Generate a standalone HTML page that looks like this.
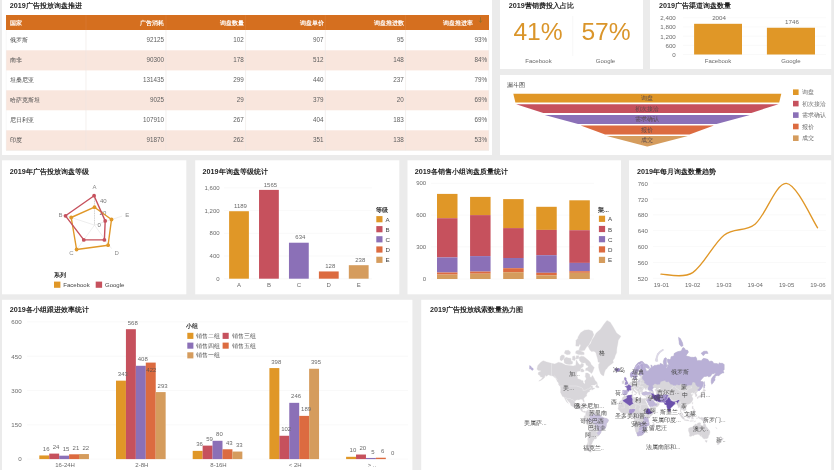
<!DOCTYPE html>
<html><head><meta charset="utf-8"><title>dashboard</title>
<style>
html,body{margin:0;padding:0;background:#ebebeb;}
body{width:834px;height:470px;overflow:hidden;position:relative;font-family:"Liberation Sans",sans-serif;}
svg{position:absolute;left:0;top:0;display:block;filter:blur(0.45px);}
svg text{font-family:"Liberation Sans",sans-serif;}
</style></head><body>
<svg width="834" height="470" viewBox="0 0 834 470">
<rect x="0" y="0" width="834" height="470" fill="#ebebeb"/>
<rect x="2.00" y="0.00" width="490.00" height="155.00" fill="#ffffff" />
<rect x="500.00" y="0.00" width="143.00" height="69.00" fill="#ffffff" />
<rect x="650.00" y="0.00" width="181.20" height="69.00" fill="#ffffff" />
<rect x="500.00" y="75.00" width="331.20" height="80.00" fill="#ffffff" />
<rect x="2.00" y="160.30" width="184.30" height="134.00" fill="#ffffff" />
<rect x="195.20" y="160.30" width="204.10" height="134.00" fill="#ffffff" />
<rect x="407.50" y="160.30" width="213.50" height="134.00" fill="#ffffff" />
<rect x="629.00" y="160.30" width="202.20" height="134.00" fill="#ffffff" />
<rect x="2.00" y="299.80" width="410.40" height="171.00" fill="#ffffff" />
<rect x="421.20" y="299.80" width="410.00" height="171.00" fill="#ffffff" />
<text x="9.80" y="5.60" font-size="7.2" fill="#1f1f1f" text-anchor="start" font-weight="bold" dominant-baseline="central" >2019</text>
<text x="25.81" y="5.60" font-size="7.2" fill="#1f1f1f" text-anchor="start" font-weight="bold" dominant-baseline="central"  textLength="56.00" lengthAdjust="spacing">广告投放询盘推进</text>
<rect x="6.00" y="15.00" width="483.00" height="15.00" fill="#d56f1f" />
<rect x="6.00" y="50.30" width="483.00" height="20.10" fill="#f9e6dd" />
<rect x="6.00" y="90.30" width="483.00" height="20.00" fill="#f9e6dd" />
<rect x="6.00" y="130.30" width="483.00" height="20.00" fill="#f9e6dd" />
<line x1="86.00" y1="30.00" x2="86.00" y2="150.30" stroke="#ece6e2" stroke-width="0.6" />
<line x1="166.00" y1="30.00" x2="166.00" y2="150.30" stroke="#ece6e2" stroke-width="0.6" />
<line x1="245.60" y1="30.00" x2="245.60" y2="150.30" stroke="#ece6e2" stroke-width="0.6" />
<line x1="325.30" y1="30.00" x2="325.30" y2="150.30" stroke="#ece6e2" stroke-width="0.6" />
<line x1="405.60" y1="30.00" x2="405.60" y2="150.30" stroke="#ece6e2" stroke-width="0.6" />
<line x1="6.00" y1="150.30" x2="489.00" y2="150.30" stroke="#e9e2de" stroke-width="0.6" />
<line x1="6.20" y1="30.00" x2="6.20" y2="150.00" stroke="#eee" stroke-width="0.5" />
<line x1="488.80" y1="30.00" x2="488.80" y2="150.00" stroke="#eee" stroke-width="0.5" />
<line x1="86.00" y1="15.00" x2="86.00" y2="30.00" stroke="#db7f3c" stroke-width="0.5" />
<line x1="166.00" y1="15.00" x2="166.00" y2="30.00" stroke="#db7f3c" stroke-width="0.5" />
<line x1="245.60" y1="15.00" x2="245.60" y2="30.00" stroke="#db7f3c" stroke-width="0.5" />
<line x1="325.30" y1="15.00" x2="325.30" y2="30.00" stroke="#db7f3c" stroke-width="0.5" />
<line x1="405.60" y1="15.00" x2="405.60" y2="30.00" stroke="#db7f3c" stroke-width="0.5" />
<text x="9.60" y="22.50" font-size="6" fill="#fff" text-anchor="start" font-weight="bold" dominant-baseline="central"  textLength="12.00" lengthAdjust="spacing">国家</text>
<text x="164.40" y="22.50" font-size="6" fill="#fff" text-anchor="end" font-weight="bold" dominant-baseline="central"  textLength="24.00" lengthAdjust="spacing">广告消耗</text>
<text x="244.00" y="22.50" font-size="6" fill="#fff" text-anchor="end" font-weight="bold" dominant-baseline="central"  textLength="24.00" lengthAdjust="spacing">询盘数量</text>
<text x="323.70" y="22.50" font-size="6" fill="#fff" text-anchor="end" font-weight="bold" dominant-baseline="central"  textLength="24.00" lengthAdjust="spacing">询盘单价</text>
<text x="404.00" y="22.50" font-size="6" fill="#fff" text-anchor="end" font-weight="bold" dominant-baseline="central"  textLength="30.00" lengthAdjust="spacing">询盘推进数</text>
<text x="473.20" y="22.50" font-size="6" fill="#fff" text-anchor="end" font-weight="bold" dominant-baseline="central"  textLength="30.00" lengthAdjust="spacing">询盘推进率</text>
<path d="M480.5 17.2v5M479.1 20.6l1.4 1.9l1.4-1.9" stroke="#8f6f2c" stroke-width="0.8" fill="none"/>
<text x="9.60" y="39.50" font-size="6" fill="#4a4a4a" text-anchor="start" font-weight="normal" dominant-baseline="central"  textLength="18.00" lengthAdjust="spacing">俄罗斯</text>
<text x="164.10" y="39.40" font-size="6.3" fill="#606060" text-anchor="end" font-weight="normal" dominant-baseline="central" >92125</text>
<text x="243.70" y="39.40" font-size="6.3" fill="#606060" text-anchor="end" font-weight="normal" dominant-baseline="central" >102</text>
<text x="323.40" y="39.40" font-size="6.3" fill="#606060" text-anchor="end" font-weight="normal" dominant-baseline="central" >907</text>
<text x="403.70" y="39.40" font-size="6.3" fill="#606060" text-anchor="end" font-weight="normal" dominant-baseline="central" >95</text>
<text x="487.10" y="39.40" font-size="6.3" fill="#606060" text-anchor="end" font-weight="normal" dominant-baseline="central" >93%</text>
<text x="9.60" y="59.70" font-size="6" fill="#4a4a4a" text-anchor="start" font-weight="normal" dominant-baseline="central"  textLength="12.00" lengthAdjust="spacing">南非</text>
<text x="164.10" y="59.60" font-size="6.3" fill="#606060" text-anchor="end" font-weight="normal" dominant-baseline="central" >90300</text>
<text x="243.70" y="59.60" font-size="6.3" fill="#606060" text-anchor="end" font-weight="normal" dominant-baseline="central" >178</text>
<text x="323.40" y="59.60" font-size="6.3" fill="#606060" text-anchor="end" font-weight="normal" dominant-baseline="central" >512</text>
<text x="403.70" y="59.60" font-size="6.3" fill="#606060" text-anchor="end" font-weight="normal" dominant-baseline="central" >148</text>
<text x="487.10" y="59.60" font-size="6.3" fill="#606060" text-anchor="end" font-weight="normal" dominant-baseline="central" >84%</text>
<text x="9.60" y="79.80" font-size="6" fill="#4a4a4a" text-anchor="start" font-weight="normal" dominant-baseline="central"  textLength="24.00" lengthAdjust="spacing">坦桑尼亚</text>
<text x="164.10" y="79.70" font-size="6.3" fill="#606060" text-anchor="end" font-weight="normal" dominant-baseline="central" >131435</text>
<text x="243.70" y="79.70" font-size="6.3" fill="#606060" text-anchor="end" font-weight="normal" dominant-baseline="central" >299</text>
<text x="323.40" y="79.70" font-size="6.3" fill="#606060" text-anchor="end" font-weight="normal" dominant-baseline="central" >440</text>
<text x="403.70" y="79.70" font-size="6.3" fill="#606060" text-anchor="end" font-weight="normal" dominant-baseline="central" >237</text>
<text x="487.10" y="79.70" font-size="6.3" fill="#606060" text-anchor="end" font-weight="normal" dominant-baseline="central" >79%</text>
<text x="9.60" y="99.70" font-size="6" fill="#4a4a4a" text-anchor="start" font-weight="normal" dominant-baseline="central"  textLength="30.00" lengthAdjust="spacing">哈萨克斯坦</text>
<text x="164.10" y="99.60" font-size="6.3" fill="#606060" text-anchor="end" font-weight="normal" dominant-baseline="central" >9025</text>
<text x="243.70" y="99.60" font-size="6.3" fill="#606060" text-anchor="end" font-weight="normal" dominant-baseline="central" >29</text>
<text x="323.40" y="99.60" font-size="6.3" fill="#606060" text-anchor="end" font-weight="normal" dominant-baseline="central" >379</text>
<text x="403.70" y="99.60" font-size="6.3" fill="#606060" text-anchor="end" font-weight="normal" dominant-baseline="central" >20</text>
<text x="487.10" y="99.60" font-size="6.3" fill="#606060" text-anchor="end" font-weight="normal" dominant-baseline="central" >69%</text>
<text x="9.60" y="119.70" font-size="6" fill="#4a4a4a" text-anchor="start" font-weight="normal" dominant-baseline="central"  textLength="24.00" lengthAdjust="spacing">尼日利亚</text>
<text x="164.10" y="119.60" font-size="6.3" fill="#606060" text-anchor="end" font-weight="normal" dominant-baseline="central" >107910</text>
<text x="243.70" y="119.60" font-size="6.3" fill="#606060" text-anchor="end" font-weight="normal" dominant-baseline="central" >267</text>
<text x="323.40" y="119.60" font-size="6.3" fill="#606060" text-anchor="end" font-weight="normal" dominant-baseline="central" >404</text>
<text x="403.70" y="119.60" font-size="6.3" fill="#606060" text-anchor="end" font-weight="normal" dominant-baseline="central" >183</text>
<text x="487.10" y="119.60" font-size="6.3" fill="#606060" text-anchor="end" font-weight="normal" dominant-baseline="central" >69%</text>
<text x="9.60" y="139.70" font-size="6" fill="#4a4a4a" text-anchor="start" font-weight="normal" dominant-baseline="central"  textLength="12.00" lengthAdjust="spacing">印度</text>
<text x="164.10" y="139.60" font-size="6.3" fill="#606060" text-anchor="end" font-weight="normal" dominant-baseline="central" >91870</text>
<text x="243.70" y="139.60" font-size="6.3" fill="#606060" text-anchor="end" font-weight="normal" dominant-baseline="central" >262</text>
<text x="323.40" y="139.60" font-size="6.3" fill="#606060" text-anchor="end" font-weight="normal" dominant-baseline="central" >351</text>
<text x="403.70" y="139.60" font-size="6.3" fill="#606060" text-anchor="end" font-weight="normal" dominant-baseline="central" >138</text>
<text x="487.10" y="139.60" font-size="6.3" fill="#606060" text-anchor="end" font-weight="normal" dominant-baseline="central" >53%</text>
<text x="508.80" y="5.60" font-size="7.2" fill="#1f1f1f" text-anchor="start" font-weight="bold" dominant-baseline="central" >2019</text>
<text x="524.81" y="5.60" font-size="7.2" fill="#1f1f1f" text-anchor="start" font-weight="bold" dominant-baseline="central"  textLength="49.00" lengthAdjust="spacing">营销费投入占比</text>
<text x="538.00" y="31.80" font-size="24.6" fill="#da952a" text-anchor="middle" font-weight="normal" dominant-baseline="central" >41%</text>
<text x="606.00" y="31.80" font-size="24.6" fill="#da952a" text-anchor="middle" font-weight="normal" dominant-baseline="central" >57%</text>
<line x1="572.70" y1="16.00" x2="572.70" y2="56.00" stroke="#f3f3f3" stroke-width="0.6" />
<text x="538.50" y="60.80" font-size="6" fill="#6b6b6b" text-anchor="middle" font-weight="normal" dominant-baseline="central" >Facebook</text>
<text x="605.50" y="60.80" font-size="6" fill="#6b6b6b" text-anchor="middle" font-weight="normal" dominant-baseline="central" >Google</text>
<text x="659.00" y="5.60" font-size="7.2" fill="#1f1f1f" text-anchor="start" font-weight="bold" dominant-baseline="central" >2019</text>
<text x="675.01" y="5.60" font-size="7.2" fill="#1f1f1f" text-anchor="start" font-weight="bold" dominant-baseline="central"  textLength="56.00" lengthAdjust="spacing">广告渠道询盘数量</text>
<line x1="683.00" y1="17.73" x2="826.00" y2="17.73" stroke="#f5f5f5" stroke-width="0.6" />
<text x="675.80" y="17.73" font-size="6.2" fill="#6b6b6b" text-anchor="end" font-weight="normal" dominant-baseline="central" >2,400</text>
<line x1="683.00" y1="26.93" x2="826.00" y2="26.93" stroke="#f5f5f5" stroke-width="0.6" />
<text x="675.80" y="26.93" font-size="6.2" fill="#6b6b6b" text-anchor="end" font-weight="normal" dominant-baseline="central" >1,800</text>
<line x1="683.00" y1="36.12" x2="826.00" y2="36.12" stroke="#f5f5f5" stroke-width="0.6" />
<text x="675.80" y="36.12" font-size="6.2" fill="#6b6b6b" text-anchor="end" font-weight="normal" dominant-baseline="central" >1,200</text>
<line x1="683.00" y1="45.31" x2="826.00" y2="45.31" stroke="#f5f5f5" stroke-width="0.6" />
<text x="675.80" y="45.31" font-size="6.2" fill="#6b6b6b" text-anchor="end" font-weight="normal" dominant-baseline="central" >600</text>
<line x1="683.00" y1="54.50" x2="826.00" y2="54.50" stroke="#f5f5f5" stroke-width="0.6" />
<text x="675.80" y="54.50" font-size="6.2" fill="#6b6b6b" text-anchor="end" font-weight="normal" dominant-baseline="central" >0</text>
<rect x="694.10" y="23.80" width="47.90" height="30.70" fill="#e09727" />
<text x="719.05" y="17.80" font-size="6.2" fill="#6b6b6b" text-anchor="middle" font-weight="normal" dominant-baseline="central" >2004</text>
<text x="718.05" y="60.50" font-size="6" fill="#6b6b6b" text-anchor="middle" font-weight="normal" dominant-baseline="central" >Facebook</text>
<rect x="766.90" y="27.75" width="48.10" height="26.75" fill="#e09727" />
<text x="791.95" y="21.75" font-size="6.2" fill="#6b6b6b" text-anchor="middle" font-weight="normal" dominant-baseline="central" >1746</text>
<text x="790.95" y="60.50" font-size="6" fill="#6b6b6b" text-anchor="middle" font-weight="normal" dominant-baseline="central" >Google</text>
<text x="507.00" y="85.00" font-size="6" fill="#444" text-anchor="start" font-weight="normal" dominant-baseline="central"  textLength="18.00" lengthAdjust="spacing">漏斗图</text>
<polygon points="513.3,93.7 781.3,93.7 779.2,102.5 515.4,102.5" fill="#e09727"/>
<text x="647.30" y="98.10" font-size="6" fill="#5a4a4a" text-anchor="middle" font-weight="normal" dominant-baseline="central"  textLength="12.00" lengthAdjust="spacing">询盘</text>
<polygon points="516.1,104.2 778.5,104.2 751.3,112.9 543.3,112.9" fill="#c6515d"/>
<text x="647.30" y="108.55" font-size="6" fill="#5a4a4a" text-anchor="middle" font-weight="normal" dominant-baseline="central"  textLength="24.00" lengthAdjust="spacing">初次接洽</text>
<polygon points="544.7,115.0 749.9,115.0 716.6,123.9 578.0,123.9" fill="#8b70b7"/>
<text x="647.30" y="119.45" font-size="6" fill="#5a4a4a" text-anchor="middle" font-weight="normal" dominant-baseline="central"  textLength="24.00" lengthAdjust="spacing">需求确认</text>
<polygon points="580.7,125.6 713.9,125.6 689.5,134.5 605.1,134.5" fill="#dc6b40"/>
<text x="647.30" y="130.05" font-size="6" fill="#5a4a4a" text-anchor="middle" font-weight="normal" dominant-baseline="central"  textLength="12.00" lengthAdjust="spacing">报价</text>
<polygon points="606.7,136.1 687.9,136.1 647.6,146.6 647.0,146.6" fill="#d59c5d"/>
<text x="647.30" y="140.15" font-size="6" fill="#5a4a4a" text-anchor="middle" font-weight="normal" dominant-baseline="central"  textLength="12.00" lengthAdjust="spacing">成交</text>
<rect x="793.00" y="89.40" width="5.60" height="5.60" fill="#e09727" />
<text x="801.50" y="92.20" font-size="6" fill="#6b6b6b" text-anchor="start" font-weight="normal" dominant-baseline="central"  textLength="12.00" lengthAdjust="spacing">询盘</text>
<rect x="793.00" y="100.80" width="5.60" height="5.60" fill="#c6515d" />
<text x="801.50" y="103.60" font-size="6" fill="#6b6b6b" text-anchor="start" font-weight="normal" dominant-baseline="central"  textLength="24.00" lengthAdjust="spacing">初次接洽</text>
<rect x="793.00" y="112.30" width="5.60" height="5.60" fill="#8b70b7" />
<text x="801.50" y="115.10" font-size="6" fill="#6b6b6b" text-anchor="start" font-weight="normal" dominant-baseline="central"  textLength="24.00" lengthAdjust="spacing">需求确认</text>
<rect x="793.00" y="123.70" width="5.60" height="5.60" fill="#dc6b40" />
<text x="801.50" y="126.50" font-size="6" fill="#6b6b6b" text-anchor="start" font-weight="normal" dominant-baseline="central"  textLength="12.00" lengthAdjust="spacing">报价</text>
<rect x="793.00" y="135.40" width="5.60" height="5.60" fill="#d59c5d" />
<text x="801.50" y="138.20" font-size="6" fill="#6b6b6b" text-anchor="start" font-weight="normal" dominant-baseline="central"  textLength="12.00" lengthAdjust="spacing">成交</text>
<text x="9.80" y="171.00" font-size="7.2" fill="#1f1f1f" text-anchor="start" font-weight="bold" dominant-baseline="central" >2019</text>
<text x="25.81" y="171.00" font-size="7.2" fill="#1f1f1f" text-anchor="start" font-weight="bold" dominant-baseline="central"  textLength="63.00" lengthAdjust="spacing">年广告投放询盘等级</text>
<line x1="94.50" y1="225.10" x2="94.50" y2="196.10" stroke="#dcdcdc" stroke-width="0.5" />
<line x1="94.50" y1="225.10" x2="66.92" y2="216.14" stroke="#dcdcdc" stroke-width="0.5" />
<line x1="94.50" y1="225.10" x2="77.45" y2="248.56" stroke="#dcdcdc" stroke-width="0.5" />
<line x1="94.50" y1="225.10" x2="111.55" y2="248.56" stroke="#dcdcdc" stroke-width="0.5" />
<line x1="94.50" y1="225.10" x2="122.08" y2="216.14" stroke="#dcdcdc" stroke-width="0.5" />
<text x="94.50" y="186.50" font-size="6" fill="#8a8a8a" text-anchor="middle" font-weight="normal" dominant-baseline="central" >A</text>
<text x="60.40" y="215.20" font-size="6" fill="#8a8a8a" text-anchor="middle" font-weight="normal" dominant-baseline="central" >B</text>
<text x="71.50" y="252.60" font-size="6" fill="#8a8a8a" text-anchor="middle" font-weight="normal" dominant-baseline="central" >C</text>
<text x="116.60" y="252.60" font-size="6" fill="#8a8a8a" text-anchor="middle" font-weight="normal" dominant-baseline="central" >D</text>
<text x="127.20" y="214.90" font-size="6" fill="#8a8a8a" text-anchor="middle" font-weight="normal" dominant-baseline="central" >E</text>
<text x="100.00" y="200.80" font-size="6" fill="#777" text-anchor="start" font-weight="normal" dominant-baseline="central" >40</text>
<text x="99.60" y="212.60" font-size="6" fill="#777" text-anchor="start" font-weight="normal" dominant-baseline="central" >20</text>
<text x="97.50" y="225.30" font-size="6" fill="#777" text-anchor="start" font-weight="normal" dominant-baseline="central" >0</text>
<line x1="94.50" y1="196.00" x2="94.50" y2="225.00" stroke="#bbb" stroke-width="0.5" stroke-dasharray="1.2,1.2"/>
<polygon points="94.5,207.2 71.2,217.5 76.6,249.5 108.1,245.2 111.5,219.5" fill="none" stroke="#e09727" stroke-width="1.4" stroke-linejoin="round"/>
<circle cx="94.5" cy="207.2" r="1.9" fill="#e09727"/>
<circle cx="71.2" cy="217.5" r="1.9" fill="#e09727"/>
<circle cx="76.6" cy="249.5" r="1.9" fill="#e09727"/>
<circle cx="108.1" cy="245.2" r="1.9" fill="#e09727"/>
<circle cx="111.5" cy="219.5" r="1.9" fill="#e09727"/>
<polygon points="94.1,195.7 65.5,215.8 83.8,239.9 104.4,239.9 105.2,220.9" fill="none" stroke="#c6515d" stroke-width="1.4" stroke-linejoin="round"/>
<circle cx="94.1" cy="195.7" r="1.9" fill="#c6515d"/>
<circle cx="65.5" cy="215.8" r="1.9" fill="#c6515d"/>
<circle cx="83.8" cy="239.9" r="1.9" fill="#c6515d"/>
<circle cx="104.4" cy="239.9" r="1.9" fill="#c6515d"/>
<circle cx="105.2" cy="220.9" r="1.9" fill="#c6515d"/>
<text x="54.00" y="274.80" font-size="6" fill="#2a2a2a" text-anchor="start" font-weight="bold" dominant-baseline="central"  textLength="12.00" lengthAdjust="spacing">系列</text>
<rect x="54.00" y="281.60" width="6.40" height="6.20" fill="#e09727" />
<text x="63.30" y="284.70" font-size="6" fill="#444" text-anchor="start" font-weight="normal" dominant-baseline="central" >Facebook</text>
<rect x="95.70" y="281.60" width="6.40" height="6.20" fill="#c6515d" />
<text x="105.00" y="284.70" font-size="6" fill="#444" text-anchor="start" font-weight="normal" dominant-baseline="central" >Google</text>
<text x="202.60" y="171.00" font-size="7.2" fill="#1f1f1f" text-anchor="start" font-weight="bold" dominant-baseline="central" >2019</text>
<text x="218.61" y="171.00" font-size="7.2" fill="#1f1f1f" text-anchor="start" font-weight="bold" dominant-baseline="central"  textLength="49.00" lengthAdjust="spacing">年询盘等级统计</text>
<line x1="224.00" y1="187.90" x2="372.00" y2="187.90" stroke="#f5f5f5" stroke-width="0.6" />
<text x="219.60" y="187.90" font-size="6" fill="#6b6b6b" text-anchor="end" font-weight="normal" dominant-baseline="central" >1,600</text>
<line x1="224.00" y1="210.60" x2="372.00" y2="210.60" stroke="#f5f5f5" stroke-width="0.6" />
<text x="219.60" y="210.60" font-size="6" fill="#6b6b6b" text-anchor="end" font-weight="normal" dominant-baseline="central" >1,200</text>
<line x1="224.00" y1="233.30" x2="372.00" y2="233.30" stroke="#f5f5f5" stroke-width="0.6" />
<text x="219.60" y="233.30" font-size="6" fill="#6b6b6b" text-anchor="end" font-weight="normal" dominant-baseline="central" >800</text>
<line x1="224.00" y1="256.00" x2="372.00" y2="256.00" stroke="#f5f5f5" stroke-width="0.6" />
<text x="219.60" y="256.00" font-size="6" fill="#6b6b6b" text-anchor="end" font-weight="normal" dominant-baseline="central" >400</text>
<line x1="224.00" y1="278.70" x2="372.00" y2="278.70" stroke="#f5f5f5" stroke-width="0.6" />
<text x="219.60" y="278.70" font-size="6" fill="#6b6b6b" text-anchor="end" font-weight="normal" dominant-baseline="central" >0</text>
<rect x="229.10" y="211.22" width="19.80" height="67.48" fill="#e09727" />
<text x="240.50" y="205.92" font-size="6" fill="#6b6b6b" text-anchor="middle" font-weight="normal" dominant-baseline="central" >1189</text>
<text x="239.00" y="284.60" font-size="6" fill="#6b6b6b" text-anchor="middle" font-weight="normal" dominant-baseline="central" >A</text>
<rect x="259.03" y="189.89" width="19.80" height="88.81" fill="#c6515d" />
<text x="270.43" y="184.59" font-size="6" fill="#6b6b6b" text-anchor="middle" font-weight="normal" dominant-baseline="central" >1565</text>
<text x="268.93" y="284.60" font-size="6" fill="#6b6b6b" text-anchor="middle" font-weight="normal" dominant-baseline="central" >B</text>
<rect x="288.96" y="242.72" width="19.80" height="35.98" fill="#8b70b7" />
<text x="300.36" y="237.42" font-size="6" fill="#6b6b6b" text-anchor="middle" font-weight="normal" dominant-baseline="central" >634</text>
<text x="298.86" y="284.60" font-size="6" fill="#6b6b6b" text-anchor="middle" font-weight="normal" dominant-baseline="central" >C</text>
<rect x="318.89" y="271.44" width="19.80" height="7.26" fill="#dc6b40" />
<text x="330.29" y="266.14" font-size="6" fill="#6b6b6b" text-anchor="middle" font-weight="normal" dominant-baseline="central" >128</text>
<text x="328.79" y="284.60" font-size="6" fill="#6b6b6b" text-anchor="middle" font-weight="normal" dominant-baseline="central" >D</text>
<rect x="348.82" y="265.19" width="19.80" height="13.51" fill="#d59c5d" />
<text x="360.22" y="259.89" font-size="6" fill="#6b6b6b" text-anchor="middle" font-weight="normal" dominant-baseline="central" >238</text>
<text x="358.72" y="284.60" font-size="6" fill="#6b6b6b" text-anchor="middle" font-weight="normal" dominant-baseline="central" >E</text>
<text x="375.60" y="210.30" font-size="6" fill="#2a2a2a" text-anchor="start" font-weight="bold" dominant-baseline="central"  textLength="12.00" lengthAdjust="spacing">等级</text>
<rect x="376.30" y="216.10" width="6.20" height="6.20" fill="#e09727" />
<text x="385.60" y="219.20" font-size="6.2" fill="#444" text-anchor="start" font-weight="normal" dominant-baseline="central" >A</text>
<rect x="376.30" y="226.10" width="6.20" height="6.20" fill="#c6515d" />
<text x="385.60" y="229.20" font-size="6.2" fill="#444" text-anchor="start" font-weight="normal" dominant-baseline="central" >B</text>
<rect x="376.30" y="236.20" width="6.20" height="6.20" fill="#8b70b7" />
<text x="385.60" y="239.30" font-size="6.2" fill="#444" text-anchor="start" font-weight="normal" dominant-baseline="central" >C</text>
<rect x="376.30" y="246.40" width="6.20" height="6.20" fill="#dc6b40" />
<text x="385.60" y="249.50" font-size="6.2" fill="#444" text-anchor="start" font-weight="normal" dominant-baseline="central" >D</text>
<rect x="376.30" y="256.70" width="6.20" height="6.20" fill="#d59c5d" />
<text x="385.60" y="259.80" font-size="6.2" fill="#444" text-anchor="start" font-weight="normal" dominant-baseline="central" >E</text>
<text x="414.80" y="171.00" font-size="7.2" fill="#1f1f1f" text-anchor="start" font-weight="bold" dominant-baseline="central" >2019</text>
<text x="430.81" y="171.00" font-size="7.2" fill="#1f1f1f" text-anchor="start" font-weight="bold" dominant-baseline="central"  textLength="77.00" lengthAdjust="spacing">各销售小组询盘质量统计</text>
<line x1="431.00" y1="183.40" x2="594.00" y2="183.40" stroke="#f5f5f5" stroke-width="0.6" />
<text x="426.20" y="183.40" font-size="6" fill="#6b6b6b" text-anchor="end" font-weight="normal" dominant-baseline="central" >900</text>
<line x1="431.00" y1="215.10" x2="594.00" y2="215.10" stroke="#f5f5f5" stroke-width="0.6" />
<text x="426.20" y="215.10" font-size="6" fill="#6b6b6b" text-anchor="end" font-weight="normal" dominant-baseline="central" >600</text>
<line x1="431.00" y1="246.90" x2="594.00" y2="246.90" stroke="#f5f5f5" stroke-width="0.6" />
<text x="426.20" y="246.90" font-size="6" fill="#6b6b6b" text-anchor="end" font-weight="normal" dominant-baseline="central" >300</text>
<line x1="431.00" y1="279.00" x2="594.00" y2="279.00" stroke="#f5f5f5" stroke-width="0.6" />
<text x="426.20" y="279.00" font-size="6" fill="#6b6b6b" text-anchor="end" font-weight="normal" dominant-baseline="central" >0</text>
<rect x="437.00" y="193.90" width="20.50" height="24.30" fill="#e09727" />
<rect x="437.00" y="218.20" width="20.50" height="39.20" fill="#c6515d" />
<rect x="437.00" y="257.40" width="20.50" height="15.10" fill="#8b70b7" />
<rect x="437.00" y="272.50" width="20.50" height="2.10" fill="#dc6b40" />
<rect x="437.00" y="274.60" width="20.50" height="4.40" fill="#d59c5d" />
<rect x="470.08" y="196.90" width="20.50" height="18.20" fill="#e09727" />
<rect x="470.08" y="215.10" width="20.50" height="41.00" fill="#c6515d" />
<rect x="470.08" y="256.10" width="20.50" height="15.50" fill="#8b70b7" />
<rect x="470.08" y="271.60" width="20.50" height="2.10" fill="#dc6b40" />
<rect x="470.08" y="273.70" width="20.50" height="5.30" fill="#d59c5d" />
<rect x="503.16" y="199.10" width="20.50" height="29.00" fill="#e09727" />
<rect x="503.16" y="228.10" width="20.50" height="29.90" fill="#c6515d" />
<rect x="503.16" y="258.00" width="20.50" height="10.20" fill="#8b70b7" />
<rect x="503.16" y="268.20" width="20.50" height="4.00" fill="#dc6b40" />
<rect x="503.16" y="272.20" width="20.50" height="6.80" fill="#d59c5d" />
<rect x="536.24" y="206.80" width="20.50" height="23.10" fill="#e09727" />
<rect x="536.24" y="229.90" width="20.50" height="25.30" fill="#c6515d" />
<rect x="536.24" y="255.20" width="20.50" height="17.60" fill="#8b70b7" />
<rect x="536.24" y="272.80" width="20.50" height="2.50" fill="#dc6b40" />
<rect x="536.24" y="275.30" width="20.50" height="3.70" fill="#d59c5d" />
<rect x="569.32" y="200.30" width="20.50" height="29.90" fill="#e09727" />
<rect x="569.32" y="230.20" width="20.50" height="32.70" fill="#c6515d" />
<rect x="569.32" y="262.90" width="20.50" height="8.30" fill="#8b70b7" />
<rect x="569.32" y="271.20" width="20.50" height="1.60" fill="#dc6b40" />
<rect x="569.32" y="272.80" width="20.50" height="6.20" fill="#d59c5d" />
<text x="598.00" y="209.70" font-size="6" fill="#2a2a2a" text-anchor="start" font-weight="bold" dominant-baseline="central"  textLength="11.02" lengthAdjust="spacing">渠...</text>
<rect x="598.90" y="215.70" width="6.20" height="6.20" fill="#e09727" />
<text x="608.00" y="218.80" font-size="6.2" fill="#444" text-anchor="start" font-weight="normal" dominant-baseline="central" >A</text>
<rect x="598.90" y="225.90" width="6.20" height="6.20" fill="#c6515d" />
<text x="608.00" y="229.00" font-size="6.2" fill="#444" text-anchor="start" font-weight="normal" dominant-baseline="central" >B</text>
<rect x="598.90" y="236.10" width="6.20" height="6.20" fill="#8b70b7" />
<text x="608.00" y="239.20" font-size="6.2" fill="#444" text-anchor="start" font-weight="normal" dominant-baseline="central" >C</text>
<rect x="598.90" y="246.30" width="6.20" height="6.20" fill="#dc6b40" />
<text x="608.00" y="249.40" font-size="6.2" fill="#444" text-anchor="start" font-weight="normal" dominant-baseline="central" >D</text>
<rect x="598.90" y="256.80" width="6.20" height="6.20" fill="#d59c5d" />
<text x="608.00" y="259.90" font-size="6.2" fill="#444" text-anchor="start" font-weight="normal" dominant-baseline="central" >E</text>
<text x="637.00" y="171.00" font-size="7.2" fill="#1f1f1f" text-anchor="start" font-weight="bold" dominant-baseline="central" >2019</text>
<text x="653.01" y="171.00" font-size="7.2" fill="#1f1f1f" text-anchor="start" font-weight="bold" dominant-baseline="central"  textLength="63.00" lengthAdjust="spacing">年每月询盘数量趋势</text>
<line x1="653.00" y1="183.10" x2="826.00" y2="183.10" stroke="#f5f5f5" stroke-width="0.6" />
<text x="647.80" y="183.10" font-size="6.1" fill="#6b6b6b" text-anchor="end" font-weight="normal" dominant-baseline="central" >760</text>
<line x1="653.00" y1="199.00" x2="826.00" y2="199.00" stroke="#f5f5f5" stroke-width="0.6" />
<text x="647.80" y="199.00" font-size="6.1" fill="#6b6b6b" text-anchor="end" font-weight="normal" dominant-baseline="central" >720</text>
<line x1="653.00" y1="214.80" x2="826.00" y2="214.80" stroke="#f5f5f5" stroke-width="0.6" />
<text x="647.80" y="214.80" font-size="6.1" fill="#6b6b6b" text-anchor="end" font-weight="normal" dominant-baseline="central" >680</text>
<line x1="653.00" y1="230.60" x2="826.00" y2="230.60" stroke="#f5f5f5" stroke-width="0.6" />
<text x="647.80" y="230.60" font-size="6.1" fill="#6b6b6b" text-anchor="end" font-weight="normal" dominant-baseline="central" >640</text>
<line x1="653.00" y1="246.60" x2="826.00" y2="246.60" stroke="#f5f5f5" stroke-width="0.6" />
<text x="647.80" y="246.60" font-size="6.1" fill="#6b6b6b" text-anchor="end" font-weight="normal" dominant-baseline="central" >600</text>
<line x1="653.00" y1="262.50" x2="826.00" y2="262.50" stroke="#f5f5f5" stroke-width="0.6" />
<text x="647.80" y="262.50" font-size="6.1" fill="#6b6b6b" text-anchor="end" font-weight="normal" dominant-baseline="central" >560</text>
<line x1="653.00" y1="278.30" x2="826.00" y2="278.30" stroke="#f5f5f5" stroke-width="0.6" />
<text x="647.80" y="278.30" font-size="6.1" fill="#6b6b6b" text-anchor="end" font-weight="normal" dominant-baseline="central" >520</text>
<text x="661.40" y="284.50" font-size="6" fill="#6b6b6b" text-anchor="middle" font-weight="normal" dominant-baseline="central" >19-01</text>
<text x="692.70" y="284.50" font-size="6" fill="#6b6b6b" text-anchor="middle" font-weight="normal" dominant-baseline="central" >19-02</text>
<text x="724.00" y="284.50" font-size="6" fill="#6b6b6b" text-anchor="middle" font-weight="normal" dominant-baseline="central" >19-03</text>
<text x="755.30" y="284.50" font-size="6" fill="#6b6b6b" text-anchor="middle" font-weight="normal" dominant-baseline="central" >19-04</text>
<text x="786.60" y="284.50" font-size="6" fill="#6b6b6b" text-anchor="middle" font-weight="normal" dominant-baseline="central" >19-05</text>
<text x="817.90" y="284.50" font-size="6" fill="#6b6b6b" text-anchor="middle" font-weight="normal" dominant-baseline="central" >19-06</text>
<path d="M661.0,274.1 C666.3,273.9 682.2,279.1 692.7,272.6 C703.2,266.1 713.6,243.3 724.0,235.2 C734.4,227.1 744.9,232.5 755.3,223.9 C765.7,215.3 775.9,182.8 786.3,183.4 C796.7,184.1 812.4,220.4 817.6,227.8" fill="none" stroke="#e09727" stroke-width="1.35" stroke-linecap="round"/>
<text x="9.80" y="309.80" font-size="7.2" fill="#1f1f1f" text-anchor="start" font-weight="bold" dominant-baseline="central" >2019</text>
<text x="25.81" y="309.80" font-size="7.2" fill="#1f1f1f" text-anchor="start" font-weight="bold" dominant-baseline="central"  textLength="63.00" lengthAdjust="spacing">各小组跟进效率统计</text>
<line x1="27.00" y1="321.88" x2="408.00" y2="321.88" stroke="#f5f5f5" stroke-width="0.6" />
<text x="21.60" y="321.88" font-size="6.2" fill="#6b6b6b" text-anchor="end" font-weight="normal" dominant-baseline="central" >600</text>
<line x1="27.00" y1="356.19" x2="408.00" y2="356.19" stroke="#f5f5f5" stroke-width="0.6" />
<text x="21.60" y="356.19" font-size="6.2" fill="#6b6b6b" text-anchor="end" font-weight="normal" dominant-baseline="central" >450</text>
<line x1="27.00" y1="390.49" x2="408.00" y2="390.49" stroke="#f5f5f5" stroke-width="0.6" />
<text x="21.60" y="390.49" font-size="6.2" fill="#6b6b6b" text-anchor="end" font-weight="normal" dominant-baseline="central" >300</text>
<line x1="27.00" y1="424.80" x2="408.00" y2="424.80" stroke="#f5f5f5" stroke-width="0.6" />
<text x="21.60" y="424.80" font-size="6.2" fill="#6b6b6b" text-anchor="end" font-weight="normal" dominant-baseline="central" >150</text>
<line x1="27.00" y1="459.10" x2="408.00" y2="459.10" stroke="#f5f5f5" stroke-width="0.6" />
<text x="21.60" y="458.50" font-size="6.2" fill="#6b6b6b" text-anchor="end" font-weight="normal" dominant-baseline="central" >0</text>
<rect x="39.30" y="455.44" width="9.93" height="3.66" fill="#e09727" />
<rect x="49.23" y="453.61" width="9.93" height="5.49" fill="#c6515d" />
<rect x="59.16" y="455.67" width="9.93" height="3.43" fill="#8b70b7" />
<rect x="69.09" y="454.30" width="9.93" height="4.80" fill="#dc6b40" />
<rect x="79.02" y="454.07" width="9.93" height="5.03" fill="#d59c5d" />
<text x="65.12" y="464.70" font-size="6" fill="#6b6b6b" text-anchor="middle" font-weight="normal" dominant-baseline="central" >16-24H</text>
<rect x="116.00" y="380.66" width="9.93" height="78.44" fill="#e09727" />
<rect x="125.93" y="329.20" width="9.93" height="129.90" fill="#c6515d" />
<rect x="135.86" y="365.79" width="9.93" height="93.31" fill="#8b70b7" />
<rect x="145.79" y="362.59" width="9.93" height="96.51" fill="#dc6b40" />
<rect x="155.72" y="392.09" width="9.93" height="67.01" fill="#d59c5d" />
<text x="141.82" y="464.70" font-size="6" fill="#6b6b6b" text-anchor="middle" font-weight="normal" dominant-baseline="central" >2-8H</text>
<rect x="192.70" y="450.87" width="9.93" height="8.23" fill="#e09727" />
<rect x="202.63" y="445.61" width="9.93" height="13.49" fill="#c6515d" />
<rect x="212.56" y="440.80" width="9.93" height="18.30" fill="#8b70b7" />
<rect x="222.49" y="449.27" width="9.93" height="9.83" fill="#dc6b40" />
<rect x="232.42" y="451.55" width="9.93" height="7.55" fill="#d59c5d" />
<text x="218.52" y="464.70" font-size="6" fill="#6b6b6b" text-anchor="middle" font-weight="normal" dominant-baseline="central" >8-16H</text>
<rect x="269.40" y="368.08" width="9.93" height="91.02" fill="#e09727" />
<rect x="279.33" y="435.77" width="9.93" height="23.33" fill="#c6515d" />
<rect x="289.26" y="402.84" width="9.93" height="56.26" fill="#8b70b7" />
<rect x="299.19" y="415.88" width="9.93" height="43.22" fill="#dc6b40" />
<rect x="309.12" y="368.76" width="9.93" height="90.34" fill="#d59c5d" />
<text x="295.23" y="464.70" font-size="6" fill="#6b6b6b" text-anchor="middle" font-weight="normal" dominant-baseline="central" >&lt; 2H</text>
<rect x="346.10" y="456.81" width="9.93" height="2.29" fill="#e09727" />
<rect x="356.03" y="454.53" width="9.93" height="4.57" fill="#c6515d" />
<rect x="365.96" y="457.96" width="9.93" height="1.14" fill="#8b70b7" />
<rect x="375.89" y="457.73" width="9.93" height="1.37" fill="#dc6b40" />
<text x="371.93" y="464.70" font-size="6" fill="#6b6b6b" text-anchor="middle" font-weight="normal" dominant-baseline="central" >&gt; ..</text>
<text x="186.20" y="326.10" font-size="6" fill="#2a2a2a" text-anchor="start" font-weight="bold" dominant-baseline="central"  textLength="12.00" lengthAdjust="spacing">小组</text>
<rect x="187.30" y="332.80" width="6.10" height="6.10" fill="#e09727" />
<text x="196.20" y="335.80" font-size="6" fill="#555" text-anchor="start" font-weight="normal" dominant-baseline="central"  textLength="24.00" lengthAdjust="spacing">销售二组</text>
<rect x="222.60" y="332.80" width="6.10" height="6.10" fill="#c6515d" />
<text x="231.90" y="335.80" font-size="6" fill="#555" text-anchor="start" font-weight="normal" dominant-baseline="central"  textLength="24.00" lengthAdjust="spacing">销售三组</text>
<rect x="187.30" y="342.60" width="6.10" height="6.10" fill="#8b70b7" />
<text x="196.20" y="345.60" font-size="6" fill="#555" text-anchor="start" font-weight="normal" dominant-baseline="central"  textLength="24.00" lengthAdjust="spacing">销售四组</text>
<rect x="222.60" y="342.60" width="6.10" height="6.10" fill="#dc6b40" />
<text x="231.90" y="345.60" font-size="6" fill="#555" text-anchor="start" font-weight="normal" dominant-baseline="central"  textLength="24.00" lengthAdjust="spacing">销售五组</text>
<rect x="187.30" y="352.30" width="6.10" height="6.10" fill="#d59c5d" />
<text x="196.20" y="355.30" font-size="6" fill="#555" text-anchor="start" font-weight="normal" dominant-baseline="central"  textLength="24.00" lengthAdjust="spacing">销售一组</text>
<text x="46.16" y="449.04" font-size="6" fill="#6b6b6b" text-anchor="middle" font-weight="normal" dominant-baseline="central" >16</text>
<text x="56.09" y="447.21" font-size="6" fill="#6b6b6b" text-anchor="middle" font-weight="normal" dominant-baseline="central" >24</text>
<text x="66.03" y="449.27" font-size="6" fill="#6b6b6b" text-anchor="middle" font-weight="normal" dominant-baseline="central" >15</text>
<text x="75.96" y="447.90" font-size="6" fill="#6b6b6b" text-anchor="middle" font-weight="normal" dominant-baseline="central" >21</text>
<text x="85.89" y="447.67" font-size="6" fill="#6b6b6b" text-anchor="middle" font-weight="normal" dominant-baseline="central" >22</text>
<text x="122.87" y="374.26" font-size="6" fill="#6b6b6b" text-anchor="middle" font-weight="normal" dominant-baseline="central" >343</text>
<text x="132.80" y="322.80" font-size="6" fill="#6b6b6b" text-anchor="middle" font-weight="normal" dominant-baseline="central" >568</text>
<text x="142.73" y="359.39" font-size="6" fill="#6b6b6b" text-anchor="middle" font-weight="normal" dominant-baseline="central" >408</text>
<text x="151.35" y="369.80" font-size="6" fill="#6a5048" text-anchor="middle" font-weight="normal" dominant-baseline="central" >422</text>
<text x="162.59" y="385.69" font-size="6" fill="#6b6b6b" text-anchor="middle" font-weight="normal" dominant-baseline="central" >293</text>
<text x="199.56" y="444.47" font-size="6" fill="#6b6b6b" text-anchor="middle" font-weight="normal" dominant-baseline="central" >36</text>
<text x="209.50" y="439.21" font-size="6" fill="#6b6b6b" text-anchor="middle" font-weight="normal" dominant-baseline="central" >59</text>
<text x="219.43" y="434.40" font-size="6" fill="#6b6b6b" text-anchor="middle" font-weight="normal" dominant-baseline="central" >80</text>
<text x="229.35" y="442.87" font-size="6" fill="#6b6b6b" text-anchor="middle" font-weight="normal" dominant-baseline="central" >43</text>
<text x="239.28" y="445.15" font-size="6" fill="#6b6b6b" text-anchor="middle" font-weight="normal" dominant-baseline="central" >33</text>
<text x="276.26" y="361.68" font-size="6" fill="#6b6b6b" text-anchor="middle" font-weight="normal" dominant-baseline="central" >398</text>
<text x="286.19" y="429.37" font-size="6" fill="#6b6b6b" text-anchor="middle" font-weight="normal" dominant-baseline="central" >102</text>
<text x="296.12" y="396.44" font-size="6" fill="#6b6b6b" text-anchor="middle" font-weight="normal" dominant-baseline="central" >246</text>
<text x="306.06" y="409.48" font-size="6" fill="#6b6b6b" text-anchor="middle" font-weight="normal" dominant-baseline="central" >189</text>
<text x="315.98" y="362.36" font-size="6" fill="#6b6b6b" text-anchor="middle" font-weight="normal" dominant-baseline="central" >395</text>
<text x="352.96" y="450.41" font-size="6" fill="#6b6b6b" text-anchor="middle" font-weight="normal" dominant-baseline="central" >10</text>
<text x="362.89" y="448.13" font-size="6" fill="#6b6b6b" text-anchor="middle" font-weight="normal" dominant-baseline="central" >20</text>
<text x="372.82" y="451.56" font-size="6" fill="#6b6b6b" text-anchor="middle" font-weight="normal" dominant-baseline="central" >5</text>
<text x="382.75" y="451.33" font-size="6" fill="#6b6b6b" text-anchor="middle" font-weight="normal" dominant-baseline="central" >6</text>
<text x="392.69" y="452.70" font-size="6" fill="#6b6b6b" text-anchor="middle" font-weight="normal" dominant-baseline="central" >0</text>
<text x="429.90" y="309.80" font-size="7.2" fill="#1f1f1f" text-anchor="start" font-weight="bold" dominant-baseline="central" >2019</text>
<text x="445.91" y="309.80" font-size="7.2" fill="#1f1f1f" text-anchor="start" font-weight="bold" dominant-baseline="central"  textLength="77.00" lengthAdjust="spacing">广告投放线索数量热力图</text>
<g>
<polygon points="537.0,369.1 537.8,365.4 540.8,362.3 543.2,360.7 546.7,362.0 551.5,363.3 554.8,363.9 558.5,362.3 561.8,363.1 565.5,364.9 569.3,365.5 573.1,366.1 575.8,365.2 576.3,359.8 578.4,363.6 580.1,365.1 581.7,363.3 583.6,364.0 583.3,366.5 580.9,368.2 580.1,370.9 577.1,371.4 576.5,375.5 577.4,377.1 577.7,378.8 580.1,379.5 581.7,380.4 583.1,380.7 583.2,382.6 584.6,383.9 585.1,382.9 584.6,381.0 586.0,379.6 586.2,378.0 585.2,376.8 585.7,373.0 587.7,373.1 589.7,374.6 590.0,377.0 591.1,377.5 592.5,375.4 594.0,378.1 595.1,380.4 596.7,381.9 597.4,383.4 595.8,384.3 594.6,385.0 591.9,385.0 590.5,386.2 592.4,385.8 592.7,386.9 592.6,388.1 594.3,388.0 594.9,388.4 592.8,389.5 591.9,390.3 591.6,389.1 590.3,389.9 589.4,390.6 589.7,391.6 588.4,392.1 587.6,392.4 586.9,393.8 586.5,394.8 586.7,396.0 585.7,396.6 584.7,397.5 583.8,398.2 583.7,399.4 584.3,401.2 584.2,402.2 583.6,402.1 582.9,400.7 582.9,399.8 582.1,399.4 581.1,399.2 579.8,399.2 579.2,399.9 578.2,399.7 576.8,399.7 575.5,400.4 574.9,401.5 574.8,403.9 575.5,405.5 576.6,406.3 577.9,406.1 578.7,405.0 580.1,404.5 580.7,404.6 580.2,406.2 579.9,407.6 581.1,407.6 582.5,408.0 582.4,409.5 582.4,410.5 583.1,411.3 583.9,411.5 584.6,411.1 585.5,411.5 585.8,411.9 585.3,412.2 584.3,412.4 583.4,412.0 582.6,411.8 581.3,410.9 580.3,409.2 578.7,408.8 577.7,408.4 576.7,407.5 575.5,407.7 573.9,407.2 572.5,406.5 571.2,405.8 570.6,404.9 570.5,403.8 569.6,402.6 568.5,401.4 567.7,400.6 566.7,399.2 565.7,398.3 565.9,399.4 566.8,400.8 567.5,401.9 568.2,403.0 568.4,403.6 567.7,403.1 567.0,402.3 566.0,400.9 565.3,399.6 564.4,397.8 563.6,396.8 562.5,396.4 561.8,395.1 561.4,394.3 560.8,393.1 560.5,392.4 560.6,390.6 560.7,388.2 560.3,386.5 561.3,386.5 561.1,385.7 559.9,384.9 558.7,384.1 558.6,383.0 557.3,381.4 556.7,380.1 555.6,378.1 554.0,377.1 552.6,375.9 550.2,375.6 548.6,374.8 547.5,375.4 545.9,376.4 545.6,374.8 544.8,376.4 544.4,377.8 542.9,379.1 541.1,380.2 539.5,380.9 538.7,381.1 540.2,379.9 541.4,379.2 542.7,377.2 541.9,377.2 540.4,376.8 540.1,375.5 538.6,374.9 538.1,373.3 538.8,372.1 540.7,371.6 540.8,370.4 539.3,370.4 537.9,370.2 537.0,369.1" fill="#d8d6da" stroke="#d8d6da" stroke-width="0.3" stroke-linejoin="round"/>
<polygon points="594.3,367.6 592.7,371.7 591.6,373.5 590.4,372.6 588.9,371.5 587.3,370.4 585.5,370.5 585.8,368.3 587.9,367.6 588.3,366.1 586.4,365.2 585.3,362.8 583.0,363.0 581.2,362.6 579.4,360.4 579.1,357.2 581.4,356.2 583.8,356.4 585.7,358.1 588.4,360.2 590.3,362.2 591.2,364.6 593.2,366.4" fill="#d8d6da" stroke="#d8d6da" stroke-width="0.3" stroke-linejoin="round"/>
<polygon points="564.3,363.0 566.2,364.0 569.3,364.5 572.3,363.9 572.8,361.7 571.2,360.9 570.8,358.3 568.5,357.9 566.1,357.3 563.8,359.0 564.1,361.2" fill="#d8d6da" stroke="#d8d6da" stroke-width="0.3" stroke-linejoin="round"/>
<polygon points="560.0,359.5 561.2,360.9 562.9,359.8 564.7,357.3 564.0,355.2 561.8,355.0 560.3,356.4" fill="#d8d6da" stroke="#d8d6da" stroke-width="0.3" stroke-linejoin="round"/>
<polygon points="578.9,350.7 581.7,350.7 584.6,350.3 586.5,346.9 588.7,345.0 591.1,340.6 593.8,334.7 592.4,331.0 588.7,329.7 584.4,330.2 580.6,332.7 577.9,337.2 579.5,342.1 580.6,345.8 579.5,348.1" fill="#d8d6da" stroke="#d8d6da" stroke-width="0.3" stroke-linejoin="round"/>
<polygon points="575.5,353.2 578.4,354.6 581.7,354.8 584.2,354.4 584.1,352.5 581.7,351.4 578.2,350.3 576.0,351.0" fill="#d8d6da" stroke="#d8d6da" stroke-width="0.3" stroke-linejoin="round"/>
<polygon points="564.3,353.2 567.1,354.8 570.1,354.2 570.5,351.9 568.5,350.3 565.3,350.5" fill="#d8d6da" stroke="#d8d6da" stroke-width="0.3" stroke-linejoin="round"/>
<polygon points="572.3,360.0 574.9,360.4 575.5,358.3 574.4,355.8 572.5,356.6" fill="#d8d6da" stroke="#d8d6da" stroke-width="0.3" stroke-linejoin="round"/>
<polygon points="576.0,359.1 578.7,358.6 578.8,355.8 576.3,355.8" fill="#d8d6da" stroke="#d8d6da" stroke-width="0.3" stroke-linejoin="round"/>
<polygon points="575.8,346.1 578.7,346.3 580.6,342.4 578.2,337.9 576.0,340.6" fill="#d8d6da" stroke="#d8d6da" stroke-width="0.3" stroke-linejoin="round"/>
<polygon points="580.6,371.6 582.0,372.0 583.8,371.7 584.2,370.4 582.5,368.8 581.1,369.1" fill="#d8d6da" stroke="#d8d6da" stroke-width="0.3" stroke-linejoin="round"/>
<polygon points="595.5,387.0 597.4,387.7 598.9,387.8 599.0,387.1 598.5,386.3 597.5,385.6 597.3,383.9 596.5,384.6 595.7,386.4" fill="#d8d6da" stroke="#d8d6da" stroke-width="0.3" stroke-linejoin="round"/>
<polygon points="558.4,384.6 560.0,386.2 561.0,386.5 560.3,385.1 559.1,384.3" fill="#d8d6da" stroke="#d8d6da" stroke-width="0.3" stroke-linejoin="round"/>
<polygon points="588.1,346.3 589.7,349.8 591.4,351.6 594.0,351.2 595.9,352.7 596.7,355.8 597.8,359.5 598.1,362.0 600.0,362.8 598.6,364.3 598.6,367.2 599.2,369.9 600.0,372.3 600.8,374.1 601.8,374.9 603.5,375.9 604.0,374.8 604.3,372.9 605.1,370.7 605.9,369.2 607.0,368.6 608.0,366.8 609.6,365.5 611.3,364.3 613.4,362.5 612.9,360.4 614.5,358.3 615.3,355.4 616.6,352.7 616.9,348.1 617.7,344.2 618.3,340.3 620.9,336.2 616.6,333.1 612.9,326.4 610.2,322.2 607.0,320.4 604.3,323.8 600.5,329.3 596.2,333.1 594.0,336.9 591.9,339.9 590.8,343.3" fill="#d8d6da" stroke="#d8d6da" stroke-width="0.3" stroke-linejoin="round"/>
<polygon points="581.8,404.2 582.9,403.7 584.1,403.5 585.7,404.3 587.0,404.9 587.5,405.3 586.0,405.4 585.6,404.9 584.6,404.4 583.3,404.0 582.5,404.2" fill="#d8d6da" stroke="#d8d6da" stroke-width="0.3" stroke-linejoin="round"/>
<polygon points="587.4,406.2 588.2,405.4 589.7,405.4 590.6,406.1 589.5,406.3 588.8,406.6" fill="#d8d6da" stroke="#d8d6da" stroke-width="0.3" stroke-linejoin="round"/>
<polygon points="585.8,411.9 586.5,411.2 586.9,410.5 588.0,410.2 588.9,409.6 589.0,410.3 589.8,409.7 590.7,410.5 591.9,410.6 593.0,410.6 594.2,410.5 594.7,411.4 595.7,412.0 596.6,413.1 598.1,413.2 599.4,413.5 600.1,415.0 600.5,416.1 601.4,416.7 602.7,416.9 603.6,417.7 605.1,417.9 606.6,418.3 607.7,419.0 608.5,419.8 608.6,420.8 607.9,421.9 607.1,422.9 606.5,423.7 606.4,425.9 605.9,427.2 605.3,428.4 604.4,429.0 603.2,429.4 602.0,430.0 601.3,431.0 601.2,432.3 600.3,433.7 599.3,434.9 598.6,436.0 597.5,436.4 596.4,436.0 596.0,435.9 596.6,437.1 596.5,438.4 595.4,439.0 594.0,439.1 593.8,440.4 592.5,440.5 593.0,441.6 592.3,442.2 592.2,443.5 591.1,444.4 591.9,445.4 591.1,447.0 590.3,448.1 590.6,449.4 590.5,450.5 591.6,451.7 590.5,452.3 589.2,451.7 588.4,450.8 587.3,449.3 586.9,447.5 586.7,445.0 587.6,443.5 588.0,441.2 587.7,439.5 587.9,437.9 588.3,436.4 588.9,434.8 589.0,432.9 589.3,431.1 589.5,429.0 589.6,427.0 589.5,426.3 588.7,425.6 586.9,424.6 586.3,423.7 585.6,422.5 585.0,421.1 584.4,419.9 583.7,419.3 583.7,418.6 584.3,418.1 583.9,417.5 583.9,416.7 584.4,416.1 585.0,415.5 585.3,414.9 585.8,414.3 585.7,413.3 585.7,412.5" fill="#d8d6da" stroke="#d8d6da" stroke-width="0.3" stroke-linejoin="round"/>
<polygon points="618.2,404.8 618.7,403.2 619.4,401.9 620.4,400.8 621.5,400.2 622.1,399.4 622.2,398.3 622.8,397.2 623.7,396.7 624.2,395.6 625.2,396.0 626.3,396.1 627.4,395.6 628.7,395.0 630.1,394.9 631.7,394.8 632.8,394.6 633.3,395.0 632.9,395.8 632.9,396.7 633.4,397.3 634.7,397.6 635.6,397.9 636.0,398.6 637.1,399.0 638.1,398.9 638.3,398.1 639.2,397.5 640.3,398.0 641.0,398.4 642.2,398.6 643.2,398.8 644.1,398.4 644.8,398.6 645.8,398.6 646.2,399.7 645.9,400.6 645.4,400.1 644.9,399.4 644.9,400.1 645.5,401.1 646.0,402.3 646.6,403.2 647.2,404.2 647.4,405.0 647.6,406.1 648.2,406.5 648.5,407.7 649.6,408.4 650.4,409.2 650.7,409.6 650.7,410.1 651.3,410.7 652.4,410.5 653.8,410.2 654.9,409.9 654.9,410.7 654.3,411.8 653.8,412.8 653.1,413.9 652.1,415.0 651.1,415.8 650.1,416.7 649.6,417.4 648.9,418.2 648.5,418.9 648.3,419.7 648.7,420.6 648.7,421.6 649.2,422.1 649.2,423.4 649.4,424.5 648.7,425.4 647.6,425.9 646.8,426.7 646.1,427.3 646.5,428.4 646.4,429.6 645.2,430.5 645.0,431.4 644.8,432.5 644.1,433.2 643.5,434.0 642.5,435.1 641.5,435.6 640.0,435.8 639.0,436.0 638.2,436.3 637.3,435.9 637.2,434.8 636.7,433.5 636.3,432.4 635.6,431.4 635.3,429.9 635.1,428.6 634.6,427.6 633.8,426.1 633.7,425.2 634.0,423.9 634.7,423.1 634.8,422.3 634.5,421.2 634.0,419.6 633.9,418.9 633.0,417.9 632.3,417.0 632.4,415.9 632.7,415.1 632.6,414.3 632.0,413.8 631.2,413.9 630.5,413.9 629.8,412.9 628.7,412.9 627.9,413.1 626.9,413.5 625.8,413.6 624.7,413.6 623.4,413.9 622.6,413.5 621.6,412.8 620.7,412.3 620.2,411.5 619.6,410.7 619.2,410.3 618.4,409.6 618.4,409.0 618.0,408.3 618.5,407.6 618.6,406.5 618.5,405.6" fill="#d8d6da" stroke="#d8d6da" stroke-width="0.3" stroke-linejoin="round"/>
<polygon points="653.9,422.9 654.5,424.6 654.1,425.6 653.6,427.6 653.0,429.8 652.3,430.3 651.2,430.2 650.8,428.7 651.2,427.3 651.1,425.9 651.9,424.9 653.0,424.4 653.5,423.5" fill="#d8d6da" stroke="#d8d6da" stroke-width="0.3" stroke-linejoin="round"/>
<polygon points="622.6,394.8 622.7,393.8 622.3,393.6 622.7,392.1 622.4,390.6 623.1,390.1 624.4,390.2 625.8,390.3 626.5,390.3 626.8,389.4 626.8,388.2 626.1,387.3 624.9,386.8 624.9,386.3 625.8,386.1 626.5,386.2 626.4,385.4 626.9,385.6 627.5,385.5 628.2,385.0 628.3,384.3 629.2,384.0 629.7,383.3 630.0,382.6 630.9,382.1 631.9,381.9 632.2,381.4 632.0,380.4 631.8,379.1 632.1,378.5 633.0,378.1 632.9,379.3 633.2,380.2 632.7,380.7 632.9,381.3 633.4,381.6 634.1,381.3 635.0,381.7 636.3,381.2 637.4,381.0 638.1,381.3 638.7,380.5 638.7,379.0 639.0,378.3 639.8,378.8 640.5,378.5 640.4,377.5 640.0,376.6 641.1,376.2 642.5,376.2 643.3,375.7 642.7,375.2 641.4,375.3 639.8,375.8 639.0,374.8 638.9,373.1 639.4,372.0 640.6,370.2 641.0,369.5 640.3,368.8 639.4,369.0 638.9,370.4 638.4,371.5 637.4,372.3 636.7,373.8 636.7,374.9 637.5,375.7 637.1,376.9 636.4,377.5 636.3,378.8 635.9,379.7 635.1,379.7 634.4,380.3 634.2,379.5 633.7,378.0 633.4,376.8 633.0,376.2 632.3,377.0 631.3,377.8 630.5,377.0 630.2,375.7 630.1,374.1 630.5,373.0 631.4,372.1 632.5,371.4 633.6,370.0 634.2,368.3 635.0,366.7 635.7,365.2 636.8,364.0 637.9,362.8 639.5,362.0 640.9,361.2 642.2,361.2 643.5,362.2 644.1,363.3 645.4,363.9 647.0,364.3 648.9,366.1 649.6,367.6 648.9,368.4 647.6,368.2 645.7,367.6 645.2,368.0 646.1,369.5 646.2,370.7 647.3,371.2 647.8,370.5 649.1,370.4 648.9,369.2 650.3,368.0 651.2,368.2 651.1,366.2 650.8,364.9 652.1,365.5 652.4,367.2 653.2,366.2 654.8,365.2 656.2,365.4 657.0,364.9 658.3,364.8 659.7,364.9 660.2,363.3 661.8,363.9 663.2,364.6 664.1,365.4 663.4,363.1 663.3,361.2 664.3,358.6 665.1,357.7 666.5,358.1 666.4,361.2 666.5,364.3 667.1,366.1 665.9,368.0 666.4,368.3 667.5,366.8 667.5,364.8 668.6,364.6 669.4,366.4 669.0,364.5 667.5,362.0 667.2,359.5 668.0,359.0 669.4,359.5 670.7,359.1 671.0,356.8 672.9,356.2 674.2,355.4 673.9,353.8 675.8,352.5 678.0,351.6 680.1,351.2 681.5,350.5 682.5,348.1 683.5,347.6 684.7,348.4 685.5,350.1 687.4,350.1 688.5,352.1 686.8,354.4 686.0,355.8 687.4,356.2 688.7,356.6 691.2,357.2 693.8,357.3 695.5,356.8 696.5,358.1 697.1,360.7 698.4,360.4 699.8,360.4 701.4,360.7 702.6,359.0 703.8,358.3 705.9,358.8 707.8,359.3 709.2,361.4 711.3,361.0 712.9,361.7 713.5,363.3 715.1,363.4 717.0,363.6 718.6,364.6 719.1,362.8 720.7,363.3 722.4,363.3 724.2,364.5 724.2,369.7 723.4,370.4 722.8,370.4 723.6,371.8 723.9,373.0 722.6,372.9 721.0,373.8 719.7,374.8 719.0,375.7 717.2,375.5 715.9,375.9 715.1,376.8 715.3,377.8 714.6,378.0 715.1,379.5 714.6,380.9 713.6,381.4 713.4,382.6 712.7,383.3 711.8,384.3 711.2,382.6 711.2,380.4 711.5,378.8 712.1,377.8 713.2,376.2 714.3,375.2 715.4,373.7 715.4,372.8 713.7,373.7 712.1,373.8 710.8,375.9 710.0,376.6 708.6,376.8 707.6,376.0 705.7,376.4 704.1,376.6 702.7,378.0 701.4,379.5 700.3,380.9 701.4,381.6 702.6,381.6 703.4,382.4 703.3,383.4 703.0,384.7 702.9,386.1 702.2,387.3 701.4,388.6 700.3,389.9 699.2,390.7 698.4,390.5 697.8,391.0 697.2,391.9 696.4,392.8 696.0,393.2 696.5,393.9 697.0,395.0 696.9,396.0 696.0,396.4 695.4,396.5 695.5,395.6 695.6,394.8 694.8,394.3 694.8,393.3 694.2,392.9 693.2,393.3 692.7,393.5 693.0,392.4 692.3,392.4 691.2,393.3 690.8,393.8 691.3,394.5 692.4,394.4 693.3,394.7 692.5,395.2 691.7,396.0 692.2,397.2 692.9,398.3 692.9,399.1 692.8,400.0 692.2,401.0 691.7,402.0 690.9,402.8 690.1,403.5 689.0,403.9 688.2,404.2 687.4,404.5 686.7,404.6 686.5,405.1 686.3,404.5 685.6,404.4 684.8,405.0 684.3,405.8 684.7,406.6 685.4,407.5 686.0,408.4 686.2,409.5 685.9,410.2 685.1,410.6 684.4,411.1 683.8,411.6 683.9,410.9 683.4,410.6 682.8,410.2 682.4,409.7 681.7,409.4 681.5,409.0 681.2,409.4 681.1,410.3 680.8,411.2 681.2,411.8 681.6,412.5 682.2,412.9 682.7,413.5 683.0,414.3 683.1,415.0 683.5,415.5 683.0,415.5 682.3,415.1 681.9,414.7 681.5,414.0 681.4,413.2 681.0,412.5 680.4,411.9 680.3,411.3 680.5,410.6 680.4,409.8 680.2,408.8 680.0,408.0 679.9,407.2 679.2,407.3 678.7,407.7 678.1,407.5 678.2,406.6 677.8,405.5 677.2,404.9 676.9,404.2 676.4,403.9 675.8,404.2 675.2,404.3 674.3,404.6 674.0,405.2 673.3,405.5 672.5,406.4 671.7,407.2 670.9,407.7 670.5,408.1 670.5,409.1 670.4,409.9 670.2,410.7 669.8,411.3 669.1,411.9 668.6,411.5 668.2,410.2 667.6,409.3 667.4,408.1 666.9,407.1 666.6,405.9 666.5,404.8 665.6,404.9 665.2,404.7 664.5,404.0 665.2,403.6 664.1,403.2 663.6,402.6 663.1,402.2 662.0,402.3 660.5,402.3 659.3,402.2 658.2,401.9 657.9,401.2 657.0,401.4 656.2,401.3 655.3,400.8 654.6,399.9 654.2,399.2 653.5,399.4 653.3,399.8 653.7,400.8 654.2,401.4 654.4,402.2 654.8,402.6 655.1,401.8 655.2,402.8 655.6,402.9 656.5,402.9 657.3,402.1 657.7,401.6 657.8,402.5 658.3,403.1 659.0,403.2 659.6,403.9 659.1,404.7 658.6,405.1 658.4,405.9 657.8,406.5 657.1,406.8 656.2,407.2 655.5,407.7 654.3,408.1 653.5,408.7 652.4,409.0 651.6,409.4 650.8,409.4 650.5,408.8 650.4,408.0 650.3,407.2 649.7,406.5 649.2,405.6 648.5,404.9 648.4,404.0 647.8,403.0 647.4,402.3 647.0,401.5 646.4,400.6 646.2,399.7 645.9,398.6 646.1,397.9 646.5,396.8 646.7,395.8 646.8,395.1 646.0,395.0 644.9,395.4 643.8,395.3 643.3,395.3 642.5,395.0 642.1,394.5 641.6,393.8 641.8,393.1 641.5,392.8 642.2,392.5 643.0,392.4 643.0,392.0 644.2,391.9 645.3,391.4 646.3,391.4 647.1,391.9 648.1,392.1 649.2,392.1 649.7,391.7 649.7,390.9 648.9,390.3 648.1,389.6 647.5,389.0 648.1,388.3 648.5,387.4 647.6,387.7 646.5,388.1 646.2,388.6 647.0,388.9 646.5,389.2 645.6,389.6 645.0,388.7 645.4,388.3 644.5,388.1 643.9,388.0 643.4,388.9 642.8,389.9 642.5,390.8 642.5,391.5 642.9,391.9 642.2,392.2 641.5,392.3 640.6,392.1 640.0,392.6 639.6,392.6 639.9,393.3 640.3,394.0 639.9,394.3 639.8,395.2 639.4,395.1 638.9,394.5 638.7,393.6 638.1,392.9 637.8,392.1 637.9,391.4 637.2,390.8 636.3,390.3 635.6,389.7 635.2,389.0 634.8,388.7 634.1,388.8 634.0,389.6 634.7,390.3 635.0,391.1 636.0,391.4 636.0,391.8 637.2,392.5 637.2,392.9 636.5,392.4 636.3,393.0 636.5,393.5 636.1,394.2 635.8,394.2 636.0,393.5 635.7,392.7 635.1,392.2 634.2,391.8 633.4,391.1 632.9,390.4 632.7,389.8 632.1,389.6 631.4,390.0 630.7,390.6 630.0,390.3 629.1,390.6 629.1,391.4 628.5,391.9 627.8,392.3 627.2,393.1 627.5,393.6 627.0,394.2 626.3,395.0 625.0,395.0 624.4,395.5 624.0,395.0 623.4,394.7" fill="#d8d6da" stroke="#d8d6da" stroke-width="0.3" stroke-linejoin="round"/>
<polygon points="624.6,385.1 625.5,384.8 626.9,384.6 628.0,384.1 628.2,382.8 627.5,382.3 627.2,381.3 626.5,380.3 626.2,379.7 626.4,378.2 625.5,378.1 625.7,377.2 624.7,377.2 624.3,378.3 624.4,379.6 624.8,380.4 625.6,380.9 625.8,382.1 625.0,382.4 625.1,383.3 624.6,383.6 625.5,384.0 625.0,384.3" fill="#d8d6da" stroke="#d8d6da" stroke-width="0.3" stroke-linejoin="round"/>
<polygon points="622.0,383.7 623.1,383.8 624.1,383.3 624.1,382.1 624.4,381.1 623.6,380.4 622.9,380.7 622.1,381.5 622.1,382.3 622.3,382.9" fill="#d8d6da" stroke="#d8d6da" stroke-width="0.3" stroke-linejoin="round"/>
<polygon points="614.5,369.2 615.6,370.6 616.4,371.7 617.4,371.8 619.1,370.9 620.0,369.9 619.4,368.3 618.0,368.2 616.5,368.7 615.3,368.0" fill="#d8d6da" stroke="#d8d6da" stroke-width="0.3" stroke-linejoin="round"/>
<polygon points="655.3,360.9 656.5,361.4 657.8,361.2 657.3,358.4 658.1,355.4 660.2,352.5 663.7,350.1 662.9,349.3 659.7,351.2 657.3,353.8 656.2,357.2 655.5,359.5" fill="#d8d6da" stroke="#d8d6da" stroke-width="0.3" stroke-linejoin="round"/>
<polygon points="679.3,344.2 681.2,346.6 683.1,345.8 682.5,342.7 680.4,338.6 678.5,337.2 679.0,341.2" fill="#d8d6da" stroke="#d8d6da" stroke-width="0.3" stroke-linejoin="round"/>
<polygon points="701.1,353.2 703.3,355.8 705.4,353.4 708.1,353.4 707.0,351.2 703.8,351.2" fill="#d8d6da" stroke="#d8d6da" stroke-width="0.3" stroke-linejoin="round"/>
<polygon points="703.8,388.4 704.6,387.7 704.3,385.7 705.1,386.0 704.5,383.9 704.3,382.1 704.1,381.4 703.7,383.0 703.8,385.1 703.7,387.2" fill="#d8d6da" stroke="#d8d6da" stroke-width="0.3" stroke-linejoin="round"/>
<polygon points="702.7,391.7 703.4,391.2 704.5,391.4 705.7,390.4 705.0,389.9 704.1,388.9 703.6,389.1 703.5,390.4 702.9,390.6" fill="#d8d6da" stroke="#d8d6da" stroke-width="0.3" stroke-linejoin="round"/>
<polygon points="697.8,396.8 698.3,396.4 699.0,395.8 700.3,395.8 701.0,394.7 701.9,394.6 702.6,393.6 702.7,392.4 703.5,391.9 703.8,393.1 703.3,394.2 703.2,395.2 702.8,396.0 702.1,396.4 701.1,396.4 700.5,397.2 700.0,396.4 699.0,396.6 698.5,397.0" fill="#d8d6da" stroke="#d8d6da" stroke-width="0.3" stroke-linejoin="round"/>
<polygon points="697.2,397.3 697.9,397.0 698.4,397.3 698.1,398.5 697.4,398.6 697.2,397.7" fill="#d8d6da" stroke="#d8d6da" stroke-width="0.3" stroke-linejoin="round"/>
<polygon points="698.6,397.2 699.6,396.6 699.8,397.0 699.0,397.6" fill="#d8d6da" stroke="#d8d6da" stroke-width="0.3" stroke-linejoin="round"/>
<polygon points="692.1,403.6 692.5,402.4 693.0,402.5 692.7,403.6 692.4,404.2" fill="#d8d6da" stroke="#d8d6da" stroke-width="0.3" stroke-linejoin="round"/>
<polygon points="685.9,405.8 686.7,405.3 687.1,405.5 686.6,406.3 685.9,406.2" fill="#d8d6da" stroke="#d8d6da" stroke-width="0.3" stroke-linejoin="round"/>
<polygon points="670.3,411.1 670.9,411.3 671.4,412.3 671.1,412.9 670.5,413.1 670.3,412.1" fill="#d8d6da" stroke="#d8d6da" stroke-width="0.3" stroke-linejoin="round"/>
<polygon points="678.7,413.3 679.9,413.5 681.2,414.7 682.4,415.8 683.4,416.8 684.3,417.9 684.3,419.4 683.6,419.3 682.4,418.5 681.6,417.5 680.7,416.3 680.0,415.2 679.0,414.3" fill="#d8d6da" stroke="#d8d6da" stroke-width="0.3" stroke-linejoin="round"/>
<polygon points="684.1,420.0 685.0,419.5 685.9,419.9 687.0,419.8 688.0,420.0 689.0,420.5 688.9,420.9 687.1,420.7 685.5,420.5 684.5,420.2" fill="#d8d6da" stroke="#d8d6da" stroke-width="0.3" stroke-linejoin="round"/>
<polygon points="686.0,415.5 686.7,415.4 687.4,415.0 688.2,414.5 689.1,413.8 689.8,413.0 690.3,412.5 691.2,413.3 690.8,414.0 691.3,415.8 690.7,416.3 690.1,417.1 690.0,418.2 689.1,418.5 688.2,418.1 687.4,417.9 686.7,417.2 686.1,416.3" fill="#d8d6da" stroke="#d8d6da" stroke-width="0.3" stroke-linejoin="round"/>
<polygon points="691.7,419.3 691.6,418.2 691.4,417.6 691.9,416.1 692.5,415.7 693.8,415.8 694.6,415.4 694.1,416.1 692.8,416.0 692.1,416.8 692.8,416.8 693.7,416.8 693.0,417.3 692.8,417.8 693.6,418.6 693.2,419.2 692.5,418.5 692.2,419.3" fill="#d8d6da" stroke="#d8d6da" stroke-width="0.3" stroke-linejoin="round"/>
<polygon points="697.9,416.7 699.2,416.7 700.0,418.1 701.4,417.2 703.3,417.7 705.1,418.3 705.9,419.3 706.9,419.8 706.8,420.6 708.1,421.9 706.8,421.7 705.4,420.6 704.3,421.2 703.3,421.2 702.2,420.6 701.6,419.8 700.3,418.7 699.0,418.5 698.4,417.8" fill="#d8d6da" stroke="#d8d6da" stroke-width="0.3" stroke-linejoin="round"/>
<polygon points="692.1,407.6 692.3,406.2 693.1,406.2 693.2,407.3 692.9,408.4 694.0,408.8 694.1,409.5 693.3,409.0 692.3,408.7" fill="#d8d6da" stroke="#d8d6da" stroke-width="0.3" stroke-linejoin="round"/>
<polygon points="693.0,412.5 693.8,411.7 694.9,411.0 695.5,412.3 694.9,413.1 694.1,412.8" fill="#d8d6da" stroke="#d8d6da" stroke-width="0.3" stroke-linejoin="round"/>
<polygon points="693.0,410.6 693.6,410.0 694.6,409.5 694.9,410.3 694.1,410.9 693.6,411.3" fill="#d8d6da" stroke="#d8d6da" stroke-width="0.3" stroke-linejoin="round"/>
<polygon points="693.8,421.9 694.6,421.2 695.7,420.8 695.5,421.3 694.4,421.8" fill="#d8d6da" stroke="#d8d6da" stroke-width="0.3" stroke-linejoin="round"/>
<polygon points="689.8,420.9 691.4,420.8 693.5,420.8 693.5,421.1 691.4,421.2 689.8,421.2" fill="#d8d6da" stroke="#d8d6da" stroke-width="0.3" stroke-linejoin="round"/>
<polygon points="696.0,415.3 696.6,415.5 696.3,416.3 696.0,416.7" fill="#d8d6da" stroke="#d8d6da" stroke-width="0.3" stroke-linejoin="round"/>
<polygon points="696.2,418.0 697.8,417.9 697.6,418.3 696.3,418.3" fill="#d8d6da" stroke="#d8d6da" stroke-width="0.3" stroke-linejoin="round"/>
<polygon points="688.6,428.6 688.8,428.3 690.2,427.6 691.4,427.3 692.7,427.0 693.2,426.1 693.8,425.8 694.4,425.2 695.1,424.2 695.7,423.9 696.4,424.4 697.2,424.4 697.4,423.4 697.9,422.9 698.7,422.9 699.0,422.5 700.0,422.9 701.0,422.9 700.6,423.6 700.3,424.5 701.1,424.9 702.2,425.6 703.0,425.9 703.4,425.0 703.6,423.9 703.6,423.1 704.1,422.1 704.6,423.2 704.8,424.1 705.6,424.5 705.9,425.9 706.1,426.7 707.0,427.3 707.8,428.6 708.5,429.3 709.4,430.2 709.8,431.1 710.0,432.3 709.7,433.5 709.3,434.8 708.6,435.8 708.3,437.1 708.0,438.1 706.8,438.4 706.1,439.1 705.4,438.6 704.6,439.0 703.5,438.6 702.7,438.1 702.5,437.1 701.6,436.8 701.5,436.1 701.5,435.1 700.8,436.1 700.3,436.3 699.8,435.1 698.7,434.5 697.8,434.2 696.5,434.5 695.2,434.7 694.2,435.1 693.8,435.7 692.5,435.6 691.7,436.0 690.9,436.4 689.8,436.3 689.3,435.9 689.6,434.8 689.6,433.9 689.3,432.9 688.8,431.7 688.4,430.8 688.5,429.9 688.5,429.1" fill="#d8d6da" stroke="#d8d6da" stroke-width="0.3" stroke-linejoin="round"/>
<polygon points="705.2,440.3 706.2,440.6 707.2,440.5 707.0,441.8 706.2,442.4 705.6,441.8" fill="#d8d6da" stroke="#d8d6da" stroke-width="0.3" stroke-linejoin="round"/>
<polygon points="720.3,436.0 721.2,437.1 721.9,437.6 722.6,438.3 723.4,438.2 722.8,439.3 722.2,440.4 721.5,440.9 721.4,440.0 720.9,439.3 721.4,438.4 721.2,437.6" fill="#d8d6da" stroke="#d8d6da" stroke-width="0.3" stroke-linejoin="round"/>
<polygon points="720.3,440.2 721.2,440.9 720.5,442.0 719.6,442.9 719.3,444.1 718.1,444.7 717.0,444.2 717.9,442.9 719.1,441.8 719.8,441.0" fill="#d8d6da" stroke="#d8d6da" stroke-width="0.3" stroke-linejoin="round"/>
<polygon points="715.6,427.4 716.7,428.1 717.2,428.7 716.4,428.3" fill="#d8d6da" stroke="#d8d6da" stroke-width="0.3" stroke-linejoin="round"/>
<polygon points="634.1,394.2 635.7,394.0 635.5,395.0 634.2,394.5" fill="#d8d6da" stroke="#d8d6da" stroke-width="0.3" stroke-linejoin="round"/>
<polygon points="631.8,392.1 632.6,392.1 632.6,393.3 632.0,393.5" fill="#d8d6da" stroke="#d8d6da" stroke-width="0.3" stroke-linejoin="round"/>
<polygon points="632.0,390.7 632.5,390.7 632.5,391.7 632.1,391.6" fill="#d8d6da" stroke="#d8d6da" stroke-width="0.3" stroke-linejoin="round"/>
<polygon points="640.0,395.8 641.5,396.0 640.6,396.2" fill="#d8d6da" stroke="#d8d6da" stroke-width="0.3" stroke-linejoin="round"/>
<polygon points="644.8,396.2 646.0,395.8 645.6,396.4" fill="#d8d6da" stroke="#d8d6da" stroke-width="0.3" stroke-linejoin="round"/>
<polygon points="594.6,448.7 596.2,448.6 595.4,449.4" fill="#d8d6da" stroke="#d8d6da" stroke-width="0.3" stroke-linejoin="round"/>
<polygon points="529.5,365.5 530.8,366.1 531.9,367.8 533.1,368.3 533.4,369.6 532.4,370.5 531.5,370.0 530.3,368.7 529.5,369.1" fill="#b9b0d6" stroke="#b9b0d6" stroke-width="0.3" stroke-linejoin="round"/>
<polygon points="644.0,363.4 645.4,363.9 647.0,364.3 648.9,366.1 649.6,367.6 648.9,368.4 647.6,368.2 645.7,367.6 645.2,368.0 646.1,369.5 646.2,370.7 647.3,371.2 647.8,370.5 649.1,370.4 648.9,369.2 650.3,368.0 651.2,368.2 651.1,366.2 650.8,364.9 652.1,365.5 652.4,367.2 653.2,366.2 654.8,365.2 656.2,365.4 657.0,364.9 658.3,364.8 659.7,364.9 660.2,363.3 661.8,363.9 663.2,364.6 664.1,365.4 663.4,363.1 663.3,361.2 664.3,358.6 665.1,357.7 666.5,358.1 666.4,361.2 666.5,364.3 667.1,366.1 665.9,368.0 666.4,368.3 667.5,366.8 667.5,364.8 668.6,364.6 669.4,366.4 669.0,364.5 667.5,362.0 667.2,359.5 668.0,359.0 669.4,359.5 670.7,359.1 671.0,356.8 672.9,356.2 674.2,355.4 673.9,353.8 675.8,352.5 678.0,351.6 680.1,351.2 681.5,350.5 682.5,348.1 683.5,347.6 684.7,348.4 685.5,350.1 687.4,350.1 688.5,352.1 686.8,354.4 686.0,355.8 687.4,356.2 688.7,356.6 691.2,357.2 693.8,357.3 695.5,356.8 696.5,358.1 697.1,360.7 698.4,360.4 699.8,360.4 701.4,360.7 702.6,359.0 703.8,358.3 705.9,358.8 707.8,359.3 709.2,361.4 711.3,361.0 712.9,361.7 713.5,363.3 715.1,363.4 717.0,363.6 718.6,364.6 719.1,362.8 720.7,363.3 722.4,363.3 724.2,364.5 724.2,369.7 723.4,370.4 722.8,370.4 723.6,371.8 723.9,373.0 722.6,372.9 721.0,373.8 719.7,374.8 719.0,375.7 717.2,375.5 715.9,375.9 715.1,376.8 715.3,377.8 714.6,378.0 715.1,379.5 714.6,380.9 713.6,381.4 713.4,382.6 712.7,383.3 711.8,384.3 711.2,382.6 711.2,380.4 711.5,378.8 712.1,377.8 713.2,376.2 714.3,375.2 715.4,373.7 715.4,372.8 713.7,373.7 712.1,373.8 710.8,375.9 710.0,376.6 708.6,376.8 707.6,376.0 705.7,376.4 704.1,376.6 702.7,378.0 701.4,379.5 700.3,380.9 701.4,381.6 702.6,381.6 703.4,382.4 703.3,383.4 703.0,384.7 702.9,386.1 702.2,387.3 701.4,388.6 700.3,389.9 699.2,390.7 698.4,390.5 697.8,391.0 697.9,389.3 699.0,389.0 699.8,386.9 699.0,386.6 697.8,386.9 697.3,386.0 696.0,385.3 695.2,382.8 693.8,382.1 692.4,382.3 691.7,384.7 690.6,385.5 690.1,385.2 689.0,384.9 687.7,385.6 685.8,385.7 684.4,384.9 682.5,384.8 682.3,384.0 680.6,383.4 680.1,385.1 678.5,385.1 676.9,384.5 675.6,385.3 674.5,385.8 673.1,385.1 672.1,384.3 670.7,384.3 669.4,382.6 668.6,381.5 667.2,382.0 665.6,381.5 665.6,380.4 664.5,380.4 662.6,381.1 660.8,381.6 660.2,382.7 659.8,384.3 658.9,384.3 657.3,384.6 655.6,383.8 654.6,383.7 653.5,384.9 652.7,385.6 652.7,386.8 653.5,387.9 654.0,388.1 652.8,388.7 652.5,389.5 653.0,390.6 653.5,391.5 652.7,391.9 651.6,390.9 650.8,390.8 649.7,390.4 648.9,390.3 648.1,389.6 647.5,389.0 648.1,388.3 648.5,387.4 648.0,387.4 648.9,386.8 648.9,385.5 647.8,385.1 646.8,384.9 646.0,383.6 644.6,383.3 644.3,382.4 644.9,382.1 644.1,380.7 643.8,380.0 642.6,379.6 642.2,378.3 642.5,376.2 643.3,375.7 642.7,375.2 643.0,374.4 644.2,372.6 643.5,371.1 643.5,368.8 643.0,367.2 643.5,366.2 642.7,364.6 643.0,363.9" fill="#b9b0d6" stroke="#b9b0d6" stroke-width="0.3" stroke-linejoin="round"/>
<polygon points="638.1,381.3 638.7,380.5 639.6,380.8 639.6,381.3" fill="#b9b0d6" stroke="#b9b0d6" stroke-width="0.2" stroke-linejoin="round"/>
<polygon points="679.3,344.2 681.2,346.6 683.1,345.8 682.5,342.7 680.4,338.6 678.5,337.2 679.0,341.2" fill="#b9b0d6" stroke="#b9b0d6" stroke-width="0.3" stroke-linejoin="round"/>
<polygon points="701.1,353.2 703.3,355.8 705.4,353.4 708.1,353.4 707.0,351.2 703.8,351.2" fill="#b9b0d6" stroke="#b9b0d6" stroke-width="0.3" stroke-linejoin="round"/>
<polygon points="703.8,388.4 704.6,387.7 704.3,385.7 705.1,386.0 704.5,383.9 704.3,382.1 704.1,381.4 703.7,383.0 703.8,385.1 703.7,387.2" fill="#b9b0d6" stroke="#b9b0d6" stroke-width="0.3" stroke-linejoin="round"/>
<polygon points="630.5,377.0 630.2,375.7 630.1,374.1 630.5,373.0 631.4,372.1 632.5,371.4 633.6,370.0 634.2,368.3 635.0,366.7 635.7,365.2 636.8,364.0 637.9,362.8 639.5,362.0 640.9,361.2 642.2,361.2 643.5,362.2 644.0,363.4 643.0,363.9 642.7,364.6 643.5,366.2 643.0,367.2 643.5,368.8 643.5,371.1 644.2,372.6 643.0,374.4 642.7,375.2 641.4,375.3 639.8,375.8 639.0,374.8 638.9,373.1 639.4,372.0 640.6,370.2 641.0,369.5 640.3,368.8 639.4,369.0 638.9,370.4 638.4,371.5 637.4,372.3 636.7,373.8 636.7,374.9 637.5,375.7 637.1,376.9 636.4,377.5 636.3,378.8 635.9,379.7 635.1,379.7 634.4,380.3 634.2,379.5 633.7,378.0 633.4,376.8 633.0,376.2 632.3,377.0 631.3,377.8" fill="#b3a7d3" stroke="none" stroke-width="0" stroke-linejoin="round"/>
<polygon points="599.6,414.0 600.1,415.0 600.5,416.1 601.4,416.7 602.7,416.9 603.6,417.7 605.1,417.9 606.6,418.3 607.7,419.0 608.5,419.8 608.6,420.8 607.9,421.9 607.1,422.9 606.5,423.7 606.4,425.9 605.9,427.2 605.3,428.4 604.4,429.0 603.2,429.4 602.0,430.0 601.3,431.0 601.2,432.3 600.3,433.7 599.3,434.9 598.7,435.6 597.5,433.8 596.4,433.4 597.4,432.2 598.5,431.5 598.0,430.6 598.2,429.6 597.5,429.5 596.3,428.4 596.2,427.3 596.5,426.1 595.1,425.2 594.9,423.8 593.8,423.4 592.3,422.5 592.3,421.6 590.0,422.3 589.5,421.4 588.1,421.3 587.7,420.2 588.2,419.0 589.7,418.6 590.0,416.8 589.7,415.4 591.4,415.3 592.2,415.9 593.0,415.2 593.0,414.1 594.6,413.9 595.1,413.5 595.2,415.0 596.7,415.3 598.1,415.1 599.2,415.0" fill="#c9c2dd" stroke="none" stroke-width="0" stroke-linejoin="round"/>
<polygon points="645.6,416.8 647.6,417.9 648.5,418.9 648.3,419.7 648.7,420.6 648.7,421.6 649.2,422.1 649.2,423.4 649.4,424.5 648.7,425.4 647.6,425.9 646.8,426.7 646.1,427.3 646.5,428.4 646.4,429.6 645.2,430.5 645.0,431.4 644.8,432.5 644.1,433.2 643.5,434.0 642.5,435.1 641.5,435.6 640.0,435.8 639.0,436.0 638.2,436.3 637.3,435.9 637.2,434.8 636.7,433.5 636.3,432.4 638.2,432.3 638.2,430.1 638.7,428.4 641.0,426.0 639.2,425.3 639.2,423.4 640.3,422.3 642.7,423.0 643.0,420.9 644.0,420.8 643.3,419.5 643.3,418.7 644.0,416.8" fill="#bdb3d7" stroke="none" stroke-width="0" stroke-linejoin="round"/>
<polygon points="628.9,412.8 629.8,412.9 630.5,413.9 631.2,413.9 632.0,413.8 632.2,412.8 633.6,412.6 634.4,411.2 635.2,410.1 634.7,408.9 632.8,409.1 631.2,409.2 629.7,409.0 629.3,410.0 628.9,411.4" fill="#a997cf" stroke="none" stroke-width="0" stroke-linejoin="round"/>
<polygon points="646.2,399.7 647.0,399.7 647.8,399.1 648.4,398.1 650.0,398.7 651.4,399.9 652.4,400.0 653.0,400.3 653.7,400.8 654.2,401.4 654.4,402.2 654.8,402.6 655.2,402.8 655.6,403.6 657.1,403.8 657.3,404.2 657.0,405.3 655.4,405.9 653.8,406.1 653.0,407.0 651.6,406.8 650.7,406.7 650.4,407.4 650.3,407.2 649.7,406.5 649.2,405.6 648.5,404.9 648.4,404.0 647.8,403.0 647.4,402.3 647.0,401.5 646.4,400.6" fill="#bfb6d8" stroke="none" stroke-width="0" stroke-linejoin="round"/>
<polygon points="641.5,392.8 642.2,392.5 643.0,392.4 643.0,392.0 644.2,391.9 645.3,391.4 646.3,391.4 647.1,391.9 648.1,392.1 649.2,392.1 649.7,391.7 650.8,392.0 651.5,393.1 651.2,393.8 651.5,394.7 650.2,394.7 648.9,395.0 647.8,395.0 647.1,395.4 646.8,395.1 646.0,395.0 644.9,395.4 643.8,395.3 643.3,395.3 642.5,395.0 642.1,394.5 641.6,393.8 641.8,393.1" fill="#c4bcdb" stroke="none" stroke-width="0" stroke-linejoin="round"/>
<polygon points="622.6,394.8 622.7,393.8 622.3,393.6 622.7,392.1 622.4,390.6 623.1,390.1 624.4,390.2 625.8,390.3 626.5,390.3 627.4,390.8 628.3,391.0 629.1,391.1 629.1,391.4 628.5,391.9 627.8,392.3 627.2,393.1 627.5,393.6 627.0,394.2 626.3,395.0 625.0,395.0 624.4,395.5 624.0,395.0 623.4,394.7" fill="#b7acd5" stroke="none" stroke-width="0" stroke-linejoin="round"/>
<polygon points="624.6,385.1 625.5,384.8 626.9,384.6 628.0,384.1 628.2,382.8 627.5,382.3 627.2,381.3 626.5,380.3 626.2,379.7 626.4,378.2 625.5,378.1 625.7,377.2 624.7,377.2 624.3,378.3 624.4,379.6 624.8,380.4 625.6,380.9 625.8,382.1 625.0,382.4 625.1,383.3 624.6,383.6 625.5,384.0 625.0,384.3" fill="#9d8bc9" stroke="none" stroke-width="0" stroke-linejoin="round"/>
<polygon points="614.5,369.2 615.6,370.6 616.4,371.7 617.4,371.8 619.1,370.9 620.0,369.9 619.4,368.3 618.0,368.2 616.5,368.7 615.3,368.0" fill="#8f7cc2" stroke="none" stroke-width="0" stroke-linejoin="round"/>
<polygon points="655.3,360.9 656.5,361.4 657.8,361.2 657.3,358.4 658.1,355.4 660.2,352.5 663.7,350.1 662.9,349.3 659.7,351.2 657.3,353.8 656.2,357.2 655.5,359.5" fill="#dcd8e8" stroke="#dcd8e8" stroke-width="0.2" stroke-linejoin="round"/>
<polygon points="660.5,402.3 662.0,402.3 663.1,402.2 663.6,402.6 664.1,403.2 664.4,402.9 665.5,402.8 665.5,402.0 664.8,401.4 665.3,400.7 666.4,400.1 667.4,398.9 667.9,398.0 667.2,397.5 667.5,396.4 668.8,395.8 667.8,394.8 666.1,395.0 665.6,395.5 665.7,396.7 665.0,396.8 664.7,398.2 663.1,398.8 663.0,399.5 661.0,399.7 660.2,399.5 661.1,400.4 661.4,401.1" fill="#8f7bc1" stroke="none" stroke-width="0" stroke-linejoin="round"/>
<polygon points="660.0,396.6 660.3,395.1 662.1,395.3 663.2,394.6 664.8,394.4 665.8,393.9 666.0,395.0 667.7,394.6 666.1,395.0 665.6,395.5 665.7,396.7 665.0,396.8 664.7,398.2 663.1,398.8 663.0,399.5 661.0,399.7 660.2,399.5 660.6,398.7 660.2,398.4" fill="#a595cc" stroke="none" stroke-width="0" stroke-linejoin="round"/>
<polygon points="652.8,388.7 654.0,388.1 655.1,387.7 655.9,388.2 655.9,389.1 654.9,389.4 654.5,389.7 655.0,390.5 655.8,390.9 655.6,391.8 656.3,392.2 656.1,393.3 656.3,394.4 655.6,395.0 654.6,394.8 653.8,394.4 653.7,393.5 654.0,392.5 653.5,391.5 653.0,390.6 652.5,389.5" fill="#ffffff" stroke="none" stroke-width="0" stroke-linejoin="round"/>
<polygon points="658.8,388.1 659.7,387.9 660.4,388.5 660.0,389.5 659.1,389.7 658.8,389.1" fill="#ffffff" stroke="none" stroke-width="0" stroke-linejoin="round"/>
<polyline points="551.5,363.3 551.5,375.5 553.4,376.8 554.5,375.9 555.6,377.4 557.5,379.8" fill="none" stroke="#ffffff" stroke-width="0.28"/>
<polyline points="561.1,386.0 576.2,386.0 579.2,386.8 581.8,387.8 583.0,388.9 583.0,390.6 584.9,390.4 586.2,389.9 587.2,389.1 588.9,389.1 589.7,388.0 590.2,387.3 590.9,387.6 591.2,389.0" fill="none" stroke="#ffffff" stroke-width="0.28"/>
<polyline points="564.4,397.8 565.7,397.7 567.7,398.6 569.2,398.6 570.1,398.2 571.2,399.6 572.0,400.0 572.8,399.5 573.9,400.9 575.1,401.9" fill="none" stroke="#ffffff" stroke-width="0.28"/>
<polyline points="577.7,408.4 578.2,406.9 579.4,406.6 579.9,406.2" fill="none" stroke="#ffffff" stroke-width="0.28"/>
<polyline points="666.9,393.1 667.7,394.6 669.8,396.5 670.2,397.5 669.7,397.8 671.0,399.2 673.1,400.4 675.2,400.9 676.9,400.8 678.0,400.0 679.0,399.8 679.7,400.9 680.5,402.4 680.1,403.0 680.9,403.9 681.8,404.6 682.3,403.9 684.1,403.4 684.8,404.2 685.6,404.4" fill="none" stroke="#ffffff" stroke-width="0.28"/>
<polyline points="666.9,393.1 668.7,392.1 670.5,391.4 670.5,389.1 671.8,388.9 672.1,387.4 673.5,386.5 674.5,385.8" fill="none" stroke="#ffffff" stroke-width="0.28"/>
<polyline points="674.5,385.8 676.4,388.4 678.8,389.7 679.2,390.8 681.7,390.9 683.9,391.6 686.8,390.8 687.7,389.3 689.8,388.1 691.8,387.9 690.6,385.5" fill="none" stroke="#ffffff" stroke-width="0.28"/>
<polyline points="697.8,391.0 696.3,391.4 695.6,391.6 694.2,392.9" fill="none" stroke="#ffffff" stroke-width="0.28"/>
<polyline points="670.5,391.4 667.8,390.6 665.6,391.0 664.0,392.1 663.2,391.9 660.2,391.9 657.5,391.9 657.5,389.1 658.9,388.7" fill="none" stroke="#ffffff" stroke-width="0.28"/>
<polyline points="655.9,391.3 656.8,391.4 657.5,391.9" fill="none" stroke="#ffffff" stroke-width="0.28"/>
<polyline points="656.3,394.7 658.2,394.0 660.3,395.1" fill="none" stroke="#ffffff" stroke-width="0.28"/>
<polyline points="660.2,391.9 663.2,394.6" fill="none" stroke="#ffffff" stroke-width="0.28"/>
<polyline points="664.0,392.1 666.0,395.0" fill="none" stroke="#ffffff" stroke-width="0.28"/>
<polyline points="680.1,403.0 678.2,402.7" fill="none" stroke="#ffffff" stroke-width="0.28"/>
<polyline points="681.8,404.6 681.2,405.1 680.0,406.2 680.4,407.6 680.5,409.8" fill="none" stroke="#ffffff" stroke-width="0.28"/>
<polyline points="682.3,403.9 683.6,405.0 684.3,405.8" fill="none" stroke="#ffffff" stroke-width="0.28"/>
<polyline points="681.2,405.1 682.3,405.6 683.4,406.5 684.2,408.1 685.2,408.4" fill="none" stroke="#ffffff" stroke-width="0.28"/>
<polyline points="682.4,409.7 682.5,408.6 684.2,408.1" fill="none" stroke="#ffffff" stroke-width="0.28"/>
<polyline points="620.4,400.8 622.7,401.0" fill="none" stroke="#ffffff" stroke-width="0.28"/>
<polyline points="618.2,404.8 620.4,404.6 620.4,403.6 620.9,401.8 622.7,401.8 622.7,401.0" fill="none" stroke="#ffffff" stroke-width="0.28"/>
<polyline points="624.8,402.4 623.9,402.4 624.4,407.9 621.2,407.9 620.8,408.2" fill="none" stroke="#ffffff" stroke-width="0.28"/>
<polyline points="629.1,405.9 629.7,407.3 629.7,409.0" fill="none" stroke="#ffffff" stroke-width="0.28"/>
<polyline points="633.9,403.3 635.0,403.8 636.0,403.3 640.3,405.6 640.3,407.7 639.5,408.7 639.2,410.3 640.0,411.4 642.2,413.6" fill="none" stroke="#ffffff" stroke-width="0.28"/>
<polyline points="632.8,402.7 633.6,402.8 633.9,403.3" fill="none" stroke="#ffffff" stroke-width="0.28"/>
<polyline points="632.5,399.2 633.6,397.3" fill="none" stroke="#ffffff" stroke-width="0.28"/>
<polyline points="640.9,398.4 640.9,404.2 647.2,404.2" fill="none" stroke="#ffffff" stroke-width="0.28"/>
<polyline points="640.3,405.6 640.9,405.3 640.9,404.2" fill="none" stroke="#ffffff" stroke-width="0.28"/>
<polyline points="634.7,408.9 635.7,407.3 636.0,405.3 636.0,403.3" fill="none" stroke="#ffffff" stroke-width="0.28"/>
<polyline points="640.3,407.7 640.3,409.8 642.2,411.2 645.2,410.9 645.9,410.6" fill="none" stroke="#ffffff" stroke-width="0.28"/>
<polyline points="645.2,412.1 644.1,414.3 646.2,413.6 646.8,413.9" fill="none" stroke="#ffffff" stroke-width="0.28"/>
<polyline points="644.1,414.3 643.4,413.9 642.2,413.6 639.5,414.1 637.4,414.4 636.0,415.2 634.6,415.1 632.7,415.1" fill="none" stroke="#ffffff" stroke-width="0.28"/>
<polyline points="649.6,417.4 649.5,414.7 650.0,414.0" fill="none" stroke="#ffffff" stroke-width="0.28"/>
<polyline points="645.6,416.8 645.7,414.0 646.8,413.9" fill="none" stroke="#ffffff" stroke-width="0.28"/>
<polyline points="634.0,419.6 636.3,419.5 639.2,420.6 639.2,422.3 640.3,422.3" fill="none" stroke="#ffffff" stroke-width="0.28"/>
<polyline points="633.7,425.8 634.9,425.8 637.4,426.0 640.0,425.9 641.0,426.0" fill="none" stroke="#ffffff" stroke-width="0.28"/>
<polyline points="638.2,432.3 638.2,428.4 638.7,428.4" fill="none" stroke="#ffffff" stroke-width="0.28"/>
<polyline points="632.3,417.0 634.9,417.1 635.2,418.9 633.9,418.9" fill="none" stroke="#ffffff" stroke-width="0.28"/>
<polyline points="637.4,414.4 637.0,416.8 636.0,418.7" fill="none" stroke="#ffffff" stroke-width="0.28"/>
<polyline points="643.3,418.7 643.0,417.8 643.3,417.1 644.0,416.8" fill="none" stroke="#ffffff" stroke-width="0.28"/>
<polyline points="644.0,420.8 645.2,421.4 646.0,422.5 646.8,422.6 649.2,422.1" fill="none" stroke="#ffffff" stroke-width="0.28"/>
<polyline points="645.2,430.5 644.2,428.7 643.2,428.6 641.9,429.4 641.1,430.7 639.8,430.4 638.2,430.1" fill="none" stroke="#ffffff" stroke-width="0.28"/>
<polyline points="641.0,426.0 643.0,424.9 643.8,424.9 645.2,425.4 646.4,425.6" fill="none" stroke="#ffffff" stroke-width="0.28"/>
<polyline points="631.8,386.0 630.7,384.5 631.2,382.3" fill="none" stroke="#ffffff" stroke-width="0.28"/>
<polyline points="635.0,381.7 635.4,384.3 634.0,384.9 634.8,386.2 634.4,387.2 632.6,387.2 631.5,387.1" fill="none" stroke="#ffffff" stroke-width="0.28"/>
<polyline points="635.4,384.3 637.5,385.6 639.6,385.9 640.3,384.6 640.1,383.0 640.0,381.6" fill="none" stroke="#ffffff" stroke-width="0.28"/>
<polyline points="639.6,385.9 639.3,386.6 641.7,386.5 642.6,388.7 643.4,388.9" fill="none" stroke="#ffffff" stroke-width="0.28"/>
<polyline points="640.0,381.6 641.4,380.1 642.6,379.6" fill="none" stroke="#ffffff" stroke-width="0.28"/>
<polyline points="640.1,383.0 644.3,383.3" fill="none" stroke="#ffffff" stroke-width="0.28"/>
<polyline points="634.8,388.7 636.2,387.7 637.5,388.4 638.3,388.2 639.3,386.6" fill="none" stroke="#ffffff" stroke-width="0.28"/>
<polyline points="637.5,388.4 637.6,389.2 635.9,389.0" fill="none" stroke="#ffffff" stroke-width="0.28"/>
<polyline points="638.3,388.2 639.5,389.5 639.6,390.0 642.5,390.0" fill="none" stroke="#ffffff" stroke-width="0.28"/>
<polyline points="639.6,390.0 639.5,391.1 641.5,391.6 642.5,391.4" fill="none" stroke="#ffffff" stroke-width="0.28"/>
<polyline points="637.9,391.4 638.5,392.0 638.7,392.8 638.2,393.0" fill="none" stroke="#ffffff" stroke-width="0.28"/>
<polyline points="639.5,391.1 638.5,392.0" fill="none" stroke="#ffffff" stroke-width="0.28"/>
<polyline points="630.6,388.1 633.0,387.7 634.8,388.0 634.8,388.7" fill="none" stroke="#ffffff" stroke-width="0.28"/>
<polyline points="622.7,391.4 623.8,391.4 623.6,393.0 623.4,394.7" fill="none" stroke="#ffffff" stroke-width="0.28"/>
<polyline points="646.8,395.1 648.3,395.0 650.2,394.7" fill="none" stroke="#ffffff" stroke-width="0.28"/>
<polyline points="646.7,395.8 648.3,397.2 648.4,398.1" fill="none" stroke="#ffffff" stroke-width="0.28"/>
<polyline points="650.2,394.7 649.5,396.6 648.3,397.2" fill="none" stroke="#ffffff" stroke-width="0.28"/>
<polyline points="651.4,399.9 652.4,400.0 653.1,399.4" fill="none" stroke="#ffffff" stroke-width="0.28"/>
<polyline points="655.4,405.9 656.0,407.2" fill="none" stroke="#ffffff" stroke-width="0.28"/>
<polyline points="650.7,406.7 651.6,406.8 653.0,407.0 653.8,406.1 655.4,405.9" fill="none" stroke="#ffffff" stroke-width="0.28"/>
<polyline points="657.1,403.8 657.1,403.0 657.5,402.5" fill="none" stroke="#ffffff" stroke-width="0.28"/>
<polyline points="655.6,403.6 655.2,402.9" fill="none" stroke="#ffffff" stroke-width="0.28"/>
<polyline points="585.8,411.9 585.8,412.1" fill="none" stroke="#ffffff" stroke-width="0.28"/>
<polyline points="589.0,409.9 588.4,411.4 589.7,412.5 591.1,413.0 591.4,415.3" fill="none" stroke="#ffffff" stroke-width="0.28"/>
<polyline points="595.1,413.5 594.6,413.9" fill="none" stroke="#ffffff" stroke-width="0.28"/>
<polyline points="594.7,411.4 595.1,413.5" fill="none" stroke="#ffffff" stroke-width="0.28"/>
<polyline points="596.6,413.1 596.7,415.3" fill="none" stroke="#ffffff" stroke-width="0.28"/>
<polyline points="598.1,413.2 598.1,415.1" fill="none" stroke="#ffffff" stroke-width="0.28"/>
<polyline points="585.0,415.5 586.8,416.3 589.7,418.6" fill="none" stroke="#ffffff" stroke-width="0.28"/>
<polyline points="584.3,418.1 585.2,419.0 586.9,416.4" fill="none" stroke="#ffffff" stroke-width="0.28"/>
<polyline points="589.5,426.3 590.0,425.8 590.3,424.6 590.4,423.1 590.0,422.3" fill="none" stroke="#ffffff" stroke-width="0.28"/>
<polyline points="590.0,425.8 590.7,427.0 591.4,428.9 590.7,429.9 589.8,433.9 589.0,439.0 588.7,442.7 588.4,448.0 590.5,449.5" fill="none" stroke="#ffffff" stroke-width="0.28"/>
<polyline points="591.4,428.9 592.8,428.4 593.7,428.6 594.2,429.0 596.2,427.3" fill="none" stroke="#ffffff" stroke-width="0.28"/>
<polyline points="593.7,428.6 596.2,431.4 598.0,430.6" fill="none" stroke="#ffffff" stroke-width="0.28"/>
<polyline points="596.2,431.4 597.3,431.6 598.5,431.5" fill="none" stroke="#ffffff" stroke-width="0.28"/>
<polyline points="596.4,433.4 596.0,435.4" fill="none" stroke="#ffffff" stroke-width="0.28"/>
<polyline points="674.8,401.6 675.2,401.1" fill="none" stroke="#ffffff" stroke-width="0.28"/>
<polyline points="677.1,403.1 676.4,403.9" fill="none" stroke="#ffffff" stroke-width="0.28"/>
<polyline points="675.3,404.0 676.9,402.3" fill="none" stroke="#ffffff" stroke-width="0.28"/>
<polyline points="671.2,400.4 673.1,400.4" fill="none" stroke="#ffffff" stroke-width="0.28"/>
<polyline points="703.3,417.7 703.3,421.2" fill="none" stroke="#ffffff" stroke-width="0.28"/>
<polyline points="686.4,415.4 687.7,415.6 688.7,415.5 689.5,414.0 690.6,414.0" fill="none" stroke="#ffffff" stroke-width="0.28"/>
<polyline points="681.4,412.8 682.2,412.9" fill="none" stroke="#ffffff" stroke-width="0.28"/>
<polyline points="640.4,377.5 642.2,378.3" fill="none" stroke="#ffffff" stroke-width="0.28"/>
<polyline points="638.7,379.5 641.4,380.1" fill="none" stroke="#ffffff" stroke-width="0.28"/>
<polyline points="639.0,378.3 640.9,377.8" fill="none" stroke="#ffffff" stroke-width="0.28"/>
<polyline points="644.1,388.0 643.0,386.5 641.7,386.5" fill="none" stroke="#ffffff" stroke-width="0.28"/>
<polyline points="649.7,390.9 650.8,390.8" fill="none" stroke="#ffffff" stroke-width="0.28"/>
<polyline points="649.7,391.7 650.8,392.0 651.6,391.9 652.4,391.4 653.5,391.5" fill="none" stroke="#ffffff" stroke-width="0.28"/>
<polyline points="650.8,392.0 652.4,393.5" fill="none" stroke="#ffffff" stroke-width="0.28"/>
<polyline points="634.1,379.8 633.9,376.9 634.1,374.1 634.0,371.7 635.2,368.3 636.5,365.8 638.2,365.1 638.5,364.2" fill="none" stroke="#ffffff" stroke-width="0.28"/>
<polyline points="640.3,368.8 640.2,366.0 638.5,364.2 639.5,364.8 641.2,364.0 641.4,362.8 642.5,362.8 643.0,363.9" fill="none" stroke="#ffffff" stroke-width="0.28"/>
<polygon points="626.5,390.3 626.8,389.4 626.8,388.2 626.1,387.3 624.9,386.8 624.9,386.3 625.8,386.1 626.5,386.2 626.4,385.4 626.9,385.6 627.5,385.5 628.2,385.0 628.3,384.3 628.8,384.2 629.7,385.1 630.5,385.6 631.8,386.0 631.5,387.1 630.6,388.1 631.2,388.4 631.0,389.1 631.5,389.8 631.4,390.0 630.7,390.6 630.0,390.3 629.1,390.6 629.1,391.1 628.3,391.0 627.4,390.8" fill="#7c63b6" stroke="#fff" stroke-width="0.2" stroke-linejoin="round"/>
<polygon points="622.7,401.0 622.7,400.2 625.5,398.7 626.8,398.0 626.4,396.4 626.3,396.1 627.4,395.6 628.7,395.0 630.1,394.9 631.7,394.8 632.0,394.9 631.9,396.4 631.4,396.9 632.2,398.0 632.7,399.2 632.5,401.6 632.8,402.7 633.9,403.3 631.4,404.8 630.6,405.6 629.1,405.9 629.0,405.4 628.0,404.7 624.8,402.4" fill="#7358b0" stroke="#fff" stroke-width="0.2" stroke-linejoin="round"/>
<polygon points="647.0,408.5 647.8,408.3 648.9,408.4 650.2,409.5 649.9,410.3 650.5,410.5 650.8,411.2 652.7,412.0 653.2,412.0 651.6,413.6 650.0,414.0 648.7,414.4 646.8,413.9 646.2,413.0 645.2,412.1 645.8,411.2 645.9,410.6 646.3,409.8 646.9,409.4" fill="#6a4fab" stroke="#fff" stroke-width="0.2" stroke-linejoin="round"/>
<polygon points="651.5,393.1 652.4,393.5 653.2,393.1 653.7,393.9 653.8,394.4 654.6,394.8 655.6,395.0 656.3,394.7 657.3,394.2 658.2,394.0 659.3,394.5 660.3,395.1 660.0,396.6 660.2,398.4 660.6,398.7 660.2,399.5 661.1,400.4 661.4,401.1 660.5,402.3 659.3,402.2 658.2,401.9 657.9,401.2 657.0,401.4 656.2,401.3 655.3,400.8 654.6,399.9 654.2,399.2 653.5,399.4 653.1,398.4 652.1,397.5 651.9,396.5 652.3,395.7 651.5,394.7 651.2,393.8" fill="#6a4fab" stroke="#fff" stroke-width="0.2" stroke-linejoin="round"/>
<polygon points="664.1,403.2 664.3,404.0 665.0,404.8 665.6,405.0 666.4,405.0 666.5,405.9 666.7,407.1 667.1,408.2 667.4,409.4 667.9,410.3 668.3,411.5 669.0,412.0 669.8,411.5 670.4,410.8 670.7,409.9 670.8,409.1 670.7,408.1 671.1,407.7 671.9,407.2 672.6,406.4 673.4,405.5 674.2,405.2 674.4,404.6 675.2,404.3 675.3,404.0 675.2,402.8 674.9,402.1 675.7,401.8 676.9,402.3 677.1,403.1 677.6,404.0 678.2,402.7 678.6,401.5 679.7,400.9 679.0,399.8 678.0,400.0 676.9,400.8 675.8,401.3 675.2,401.1 674.8,401.6 673.1,401.4 671.2,400.4 670.4,400.1 671.0,399.2 669.9,398.7 669.7,397.8 669.1,397.3 668.0,397.5 667.2,397.7 667.9,398.0 667.4,398.9 666.4,400.1 665.3,400.7 664.8,401.4 665.5,402.0 665.5,402.8 664.4,402.9" fill="#6a4fab" stroke="#fff" stroke-width="0.2" stroke-linejoin="round"/>
</g>
<text x="601.7" y="352.6" font-size="5.8" fill="#4a4a4a" text-anchor="middle" dominant-baseline="central" textLength="6.00" lengthAdjust="spacing">格</text>
<text x="574.5" y="373.7" font-size="5.8" fill="#4a4a4a" text-anchor="middle" dominant-baseline="central" textLength="10.84" lengthAdjust="spacing">加...</text>
<text x="568.7" y="388.3" font-size="5.8" fill="#4a4a4a" text-anchor="middle" dominant-baseline="central" textLength="10.84" lengthAdjust="spacing">美...</text>
<text x="618.8" y="369.6" font-size="5.8" fill="#4a4a4a" text-anchor="middle" dominant-baseline="central" textLength="12.00" lengthAdjust="spacing">冰岛</text>
<text x="637.5" y="372.3" font-size="5.8" fill="#4a4a4a" text-anchor="middle" dominant-baseline="central" textLength="12.00" lengthAdjust="spacing">瑞典</text>
<text x="634.5" y="378.5" font-size="5.8" fill="#4a4a4a" text-anchor="middle" dominant-baseline="central" textLength="6.00" lengthAdjust="spacing">芬</text>
<text x="634.5" y="384" font-size="5.8" fill="#4a4a4a" text-anchor="middle" dominant-baseline="central" textLength="6.00" lengthAdjust="spacing">白</text>
<text x="680" y="372.3" font-size="5.8" fill="#4a4a4a" text-anchor="middle" dominant-baseline="central" textLength="18.00" lengthAdjust="spacing">俄罗斯</text>
<text x="620.5" y="392.8" font-size="5.8" fill="#4a4a4a" text-anchor="middle" dominant-baseline="central" textLength="10.84" lengthAdjust="spacing">荷...</text>
<text x="616.4" y="402" font-size="5.8" fill="#4a4a4a" text-anchor="middle" dominant-baseline="central" textLength="10.84" lengthAdjust="spacing">西...</text>
<text x="668.2" y="391.7" font-size="5.8" fill="#4a4a4a" text-anchor="middle" dominant-baseline="central" textLength="22.84" lengthAdjust="spacing">吉尔吉...</text>
<text x="684" y="387.4" font-size="5.8" fill="#4a4a4a" text-anchor="middle" dominant-baseline="central" textLength="6.00" lengthAdjust="spacing">蒙</text>
<text x="685.2" y="394.6" font-size="5.8" fill="#4a4a4a" text-anchor="middle" dominant-baseline="central" textLength="6.00" lengthAdjust="spacing">中</text>
<text x="705" y="394.6" font-size="5.8" fill="#4a4a4a" text-anchor="middle" dominant-baseline="central" textLength="10.84" lengthAdjust="spacing">日...</text>
<text x="653.9" y="397.5" font-size="5.8" fill="#4a4a4a" text-anchor="middle" dominant-baseline="central" textLength="12.00" lengthAdjust="spacing">伊朗</text>
<text x="661" y="397.5" font-size="5.8" fill="#4a4a4a" text-anchor="middle" dominant-baseline="central" textLength="6.00" lengthAdjust="spacing">巴</text>
<text x="637.5" y="400" font-size="5.8" fill="#4a4a4a" text-anchor="middle" dominant-baseline="central" textLength="6.00" lengthAdjust="spacing">利</text>
<text x="647.5" y="410.5" font-size="5.8" fill="#4a4a4a" text-anchor="middle" dominant-baseline="central" textLength="9.23" lengthAdjust="spacing">也..</text>
<text x="654" y="410.5" font-size="5.8" fill="#4a4a4a" text-anchor="middle" dominant-baseline="central" textLength="7.62" lengthAdjust="spacing">阿.</text>
<text x="670.5" y="412" font-size="5.8" fill="#4a4a4a" text-anchor="middle" dominant-baseline="central" textLength="21.23" lengthAdjust="spacing">斯里兰..</text>
<text x="684.3" y="406" font-size="5.8" fill="#4a4a4a" text-anchor="middle" dominant-baseline="central" textLength="6.00" lengthAdjust="spacing">泰</text>
<text x="690.3" y="413.9" font-size="5.8" fill="#4a4a4a" text-anchor="middle" dominant-baseline="central" textLength="12.00" lengthAdjust="spacing">文莱</text>
<text x="632.4" y="415.6" font-size="5.8" fill="#4a4a4a" text-anchor="middle" dominant-baseline="central" textLength="34.84" lengthAdjust="spacing">圣多美和普...</text>
<text x="666.5" y="419.7" font-size="5.8" fill="#4a4a4a" text-anchor="middle" dominant-baseline="central" textLength="28.84" lengthAdjust="spacing">英属印度...</text>
<text x="714.1" y="419.7" font-size="5.8" fill="#4a4a4a" text-anchor="middle" dominant-baseline="central" textLength="22.84" lengthAdjust="spacing">所罗门...</text>
<text x="634" y="424.1" font-size="5.8" fill="#4a4a4a" text-anchor="middle" dominant-baseline="central" textLength="6.00" lengthAdjust="spacing">安</text>
<text x="641" y="424.1" font-size="5.8" fill="#4a4a4a" text-anchor="middle" dominant-baseline="central" textLength="12.00" lengthAdjust="spacing">纳米</text>
<text x="658" y="428.2" font-size="5.8" fill="#4a4a4a" text-anchor="middle" dominant-baseline="central" textLength="18.00" lengthAdjust="spacing">留尼汪</text>
<text x="645" y="429.5" font-size="5.8" fill="#4a4a4a" text-anchor="middle" dominant-baseline="central" textLength="6.00" lengthAdjust="spacing">莱</text>
<text x="700.5" y="429.2" font-size="5.8" fill="#4a4a4a" text-anchor="middle" dominant-baseline="central" textLength="15.23" lengthAdjust="spacing">澳大..</text>
<text x="721" y="440.4" font-size="5.8" fill="#4a4a4a" text-anchor="middle" dominant-baseline="central" textLength="9.23" lengthAdjust="spacing">新..</text>
<text x="663" y="446.9" font-size="5.8" fill="#4a4a4a" text-anchor="middle" dominant-baseline="central" textLength="34.84" lengthAdjust="spacing">法属南部和...</text>
<text x="589.8" y="406.4" font-size="5.8" fill="#4a4a4a" text-anchor="middle" dominant-baseline="central" textLength="28.84" lengthAdjust="spacing">多米尼加...</text>
<text x="576.5" y="406.4" font-size="5.8" fill="#4a4a4a" text-anchor="middle" dominant-baseline="central" textLength="6.00" lengthAdjust="spacing">巴</text>
<text x="598.3" y="412.9" font-size="5.8" fill="#4a4a4a" text-anchor="middle" dominant-baseline="central" textLength="18.00" lengthAdjust="spacing">苏里南</text>
<text x="591.5" y="421.4" font-size="5.8" fill="#4a4a4a" text-anchor="middle" dominant-baseline="central" textLength="24.00" lengthAdjust="spacing">哥伦巴西</text>
<text x="596.6" y="428.2" font-size="5.8" fill="#4a4a4a" text-anchor="middle" dominant-baseline="central" textLength="18.00" lengthAdjust="spacing">巴拉圭</text>
<text x="590.8" y="435.3" font-size="5.8" fill="#4a4a4a" text-anchor="middle" dominant-baseline="central" textLength="10.84" lengthAdjust="spacing">阿...</text>
<text x="593.2" y="447.9" font-size="5.8" fill="#4a4a4a" text-anchor="middle" dominant-baseline="central" textLength="21.23" lengthAdjust="spacing">福克兰..</text>
<text x="535.3" y="423.4" font-size="5.8" fill="#4a4a4a" text-anchor="middle" dominant-baseline="central" textLength="22.84" lengthAdjust="spacing">美属萨...</text>
</svg>
</body></html>
